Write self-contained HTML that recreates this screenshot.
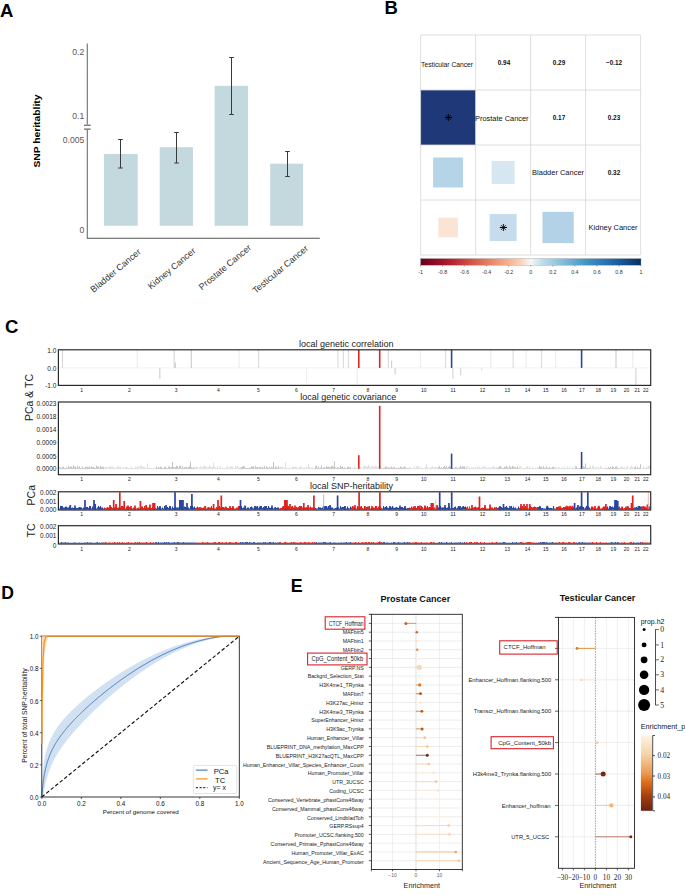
<!DOCTYPE html>
<html><head><meta charset="utf-8"><style>
html,body{margin:0;padding:0;background:#fff;}
svg{display:block;}
</style></head><body>
<svg width="685" height="895" viewBox="0 0 685 895">
<rect x="0" y="0" width="685" height="895" fill="#fff"/>
<text x="0.00" y="16.50" font-size="18.5" text-anchor="start" font-weight="bold" fill="#000" font-family='"Liberation Sans", sans-serif' >A</text>
<text x="384.50" y="13.60" font-size="18.5" text-anchor="start" font-weight="bold" fill="#000" font-family='"Liberation Sans", sans-serif' >B</text>
<text x="5.00" y="332.80" font-size="18.5" text-anchor="start" font-weight="bold" fill="#000" font-family='"Liberation Sans", sans-serif' >C</text>
<text x="1.20" y="599.40" font-size="17.6" text-anchor="start" font-weight="bold" fill="#000" font-family='"Liberation Sans", sans-serif' >D</text>
<text x="290.80" y="591.60" font-size="17.8" text-anchor="start" font-weight="bold" fill="#000" font-family='"Liberation Sans", sans-serif' >E</text>
<line x1="87.30" y1="43.40" x2="87.30" y2="124.50" stroke="#6e6e6e" stroke-width="1.1" />
<line x1="87.30" y1="129.80" x2="87.30" y2="238.20" stroke="#6e6e6e" stroke-width="1.1" />
<line x1="84.00" y1="125.20" x2="90.70" y2="125.20" stroke="#444" stroke-width="1" />
<line x1="84.00" y1="129.10" x2="90.70" y2="129.10" stroke="#444" stroke-width="1" />
<line x1="86.80" y1="238.20" x2="319.80" y2="238.20" stroke="#555" stroke-width="1.1" />
<text x="84.30" y="54.80" font-size="8.6" text-anchor="end" font-weight="normal" fill="#5e554e" font-family='"Liberation Sans", sans-serif' >0.2</text>
<text x="84.30" y="119.20" font-size="8.6" text-anchor="end" font-weight="normal" fill="#5e554e" font-family='"Liberation Sans", sans-serif' >0.1</text>
<text x="84.30" y="143.10" font-size="8.6" text-anchor="end" font-weight="normal" fill="#5e554e" font-family='"Liberation Sans", sans-serif' >0.005</text>
<text x="84.30" y="232.60" font-size="8.6" text-anchor="end" font-weight="normal" fill="#5e554e" font-family='"Liberation Sans", sans-serif' >0</text>
<rect x="103.90" y="154.00" width="33.80" height="71.80" fill="#c4d9de" />
<rect x="159.70" y="147.20" width="33.30" height="78.60" fill="#c4d9de" />
<rect x="214.60" y="85.80" width="33.50" height="140.00" fill="#c4d9de" />
<rect x="270.20" y="163.70" width="32.90" height="62.10" fill="#c4d9de" />
<line x1="120.50" y1="139.50" x2="120.50" y2="168.00" stroke="#3a3a3a" stroke-width="1" />
<line x1="118.20" y1="139.50" x2="122.80" y2="139.50" stroke="#3a3a3a" stroke-width="1" />
<line x1="118.20" y1="168.00" x2="122.80" y2="168.00" stroke="#3a3a3a" stroke-width="1" />
<line x1="176.50" y1="132.50" x2="176.50" y2="163.00" stroke="#3a3a3a" stroke-width="1" />
<line x1="174.20" y1="132.50" x2="178.80" y2="132.50" stroke="#3a3a3a" stroke-width="1" />
<line x1="174.20" y1="163.00" x2="178.80" y2="163.00" stroke="#3a3a3a" stroke-width="1" />
<line x1="231.50" y1="57.50" x2="231.50" y2="114.50" stroke="#3a3a3a" stroke-width="1" />
<line x1="229.20" y1="57.50" x2="233.80" y2="57.50" stroke="#3a3a3a" stroke-width="1" />
<line x1="229.20" y1="114.50" x2="233.80" y2="114.50" stroke="#3a3a3a" stroke-width="1" />
<line x1="287.50" y1="151.50" x2="287.50" y2="176.50" stroke="#3a3a3a" stroke-width="1" />
<line x1="285.20" y1="151.50" x2="289.80" y2="151.50" stroke="#3a3a3a" stroke-width="1" />
<line x1="285.20" y1="176.50" x2="289.80" y2="176.50" stroke="#3a3a3a" stroke-width="1" />
<text x="0" y="0" font-size="9" text-anchor="end" fill="#333" font-family='"Liberation Sans", sans-serif' transform="translate(141.50,252.80) rotate(-40)">Bladder Cancer</text>
<text x="0" y="0" font-size="9" text-anchor="end" fill="#333" font-family='"Liberation Sans", sans-serif' transform="translate(196.20,251.80) rotate(-40)">Kidney Cancer</text>
<text x="0" y="0" font-size="9" text-anchor="end" fill="#333" font-family='"Liberation Sans", sans-serif' transform="translate(251.80,248.60) rotate(-40)">Prostate Cancer</text>
<text x="0" y="0" font-size="9" text-anchor="end" fill="#333" font-family='"Liberation Sans", sans-serif' transform="translate(308.90,249.30) rotate(-40)">Testicular Cancer</text>
<text x="0" y="0" font-size="9.3" font-weight="bold" text-anchor="middle" fill="#000" font-family='"Liberation Sans", sans-serif' textLength="73" lengthAdjust="spacingAndGlyphs" transform="translate(39.7,131.1) rotate(-90)">SNP heritablity</text>
<rect x="420.60" y="90.00" width="55.00" height="55.00" fill="#1f3878" />
<rect x="433.10" y="157.50" width="30.00" height="30.00" fill="#b6d4e7" />
<rect x="491.60" y="161.00" width="23.00" height="23.00" fill="#d7e7f2" />
<rect x="438.35" y="217.75" width="19.50" height="19.50" fill="#fbe4d6" />
<rect x="489.60" y="214.00" width="27.00" height="27.00" fill="#c6dced" />
<rect x="542.45" y="211.85" width="31.30" height="31.30" fill="#b3d2e8" />
<line x1="420.60" y1="35.00" x2="420.60" y2="255.00" stroke="#d6d6d6" stroke-width="0.8" />
<line x1="420.60" y1="35.00" x2="640.60" y2="35.00" stroke="#d6d6d6" stroke-width="0.8" />
<line x1="475.60" y1="35.00" x2="475.60" y2="255.00" stroke="#d6d6d6" stroke-width="0.8" />
<line x1="420.60" y1="90.00" x2="640.60" y2="90.00" stroke="#d6d6d6" stroke-width="0.8" />
<line x1="530.60" y1="35.00" x2="530.60" y2="255.00" stroke="#d6d6d6" stroke-width="0.8" />
<line x1="420.60" y1="145.00" x2="640.60" y2="145.00" stroke="#d6d6d6" stroke-width="0.8" />
<line x1="585.60" y1="35.00" x2="585.60" y2="255.00" stroke="#d6d6d6" stroke-width="0.8" />
<line x1="420.60" y1="200.00" x2="640.60" y2="200.00" stroke="#d6d6d6" stroke-width="0.8" />
<line x1="640.60" y1="35.00" x2="640.60" y2="255.00" stroke="#d6d6d6" stroke-width="0.8" />
<line x1="420.60" y1="255.00" x2="640.60" y2="255.00" stroke="#d6d6d6" stroke-width="0.8" />
<text x="447.10" y="67.00" font-size="7.3" text-anchor="middle" font-weight="normal" fill="#111" font-family='"Liberation Sans", sans-serif' textLength="52" lengthAdjust="spacingAndGlyphs">Testicular Cancer</text>
<text x="501.80" y="121.10" font-size="7.3" text-anchor="middle" font-weight="normal" fill="#111" font-family='"Liberation Sans", sans-serif' textLength="53.6" lengthAdjust="spacingAndGlyphs">Prostate Cancer</text>
<text x="558.10" y="175.10" font-size="7.3" text-anchor="middle" font-weight="normal" fill="#111" font-family='"Liberation Sans", sans-serif' textLength="52" lengthAdjust="spacingAndGlyphs">Bladder Cancer</text>
<text x="613.10" y="230.10" font-size="7.3" text-anchor="middle" font-weight="normal" fill="#111" font-family='"Liberation Sans", sans-serif' textLength="49" lengthAdjust="spacingAndGlyphs">Kidney Cancer</text>
<text x="504.00" y="64.70" font-size="6.4" text-anchor="middle" font-weight="bold" fill="#111" font-family='"Liberation Sans", sans-serif' >0.94</text>
<text x="559.00" y="64.70" font-size="6.4" text-anchor="middle" font-weight="bold" fill="#111" font-family='"Liberation Sans", sans-serif' >0.29</text>
<text x="614.00" y="64.70" font-size="6.4" text-anchor="middle" font-weight="bold" fill="#111" font-family='"Liberation Sans", sans-serif' >−0.12</text>
<text x="559.00" y="119.70" font-size="6.4" text-anchor="middle" font-weight="bold" fill="#111" font-family='"Liberation Sans", sans-serif' >0.17</text>
<text x="614.00" y="119.70" font-size="6.4" text-anchor="middle" font-weight="bold" fill="#111" font-family='"Liberation Sans", sans-serif' >0.23</text>
<text x="614.00" y="174.70" font-size="6.4" text-anchor="middle" font-weight="bold" fill="#111" font-family='"Liberation Sans", sans-serif' >0.32</text>
<line x1="444.80" y1="117.50" x2="452.00" y2="117.50" stroke="#000" stroke-width="1.1" />
<line x1="448.40" y1="114.00" x2="448.40" y2="121.00" stroke="#000" stroke-width="0.9" />
<line x1="445.90" y1="115.00" x2="450.90" y2="120.00" stroke="#000" stroke-width="0.75" />
<line x1="445.90" y1="120.00" x2="450.90" y2="115.00" stroke="#000" stroke-width="0.75" />
<line x1="499.80" y1="227.50" x2="507.00" y2="227.50" stroke="#000" stroke-width="1.1" />
<line x1="503.40" y1="224.00" x2="503.40" y2="231.00" stroke="#000" stroke-width="0.9" />
<line x1="500.90" y1="225.00" x2="505.90" y2="230.00" stroke="#000" stroke-width="0.75" />
<line x1="500.90" y1="230.00" x2="505.90" y2="225.00" stroke="#000" stroke-width="0.75" />
<defs><linearGradient id="rdbu" x1="0" x2="1" y1="0" y2="0">
<stop offset="0.000" stop-color="#67001f"/>
<stop offset="0.050" stop-color="#850a24"/>
<stop offset="0.100" stop-color="#a31329"/>
<stop offset="0.150" stop-color="#b92632"/>
<stop offset="0.200" stop-color="#c8433f"/>
<stop offset="0.250" stop-color="#d6604d"/>
<stop offset="0.300" stop-color="#e27c62"/>
<stop offset="0.350" stop-color="#ee9777"/>
<stop offset="0.400" stop-color="#f6b293"/>
<stop offset="0.450" stop-color="#fbceb6"/>
<stop offset="0.500" stop-color="#f7f7f7"/>
<stop offset="0.550" stop-color="#c1ddec"/>
<stop offset="0.600" stop-color="#a2cde2"/>
<stop offset="0.650" stop-color="#82bbd9"/>
<stop offset="0.700" stop-color="#63a7ce"/>
<stop offset="0.750" stop-color="#4393c3"/>
<stop offset="0.800" stop-color="#3581ba"/>
<stop offset="0.850" stop-color="#286fb1"/>
<stop offset="0.900" stop-color="#1b5b9d"/>
<stop offset="0.950" stop-color="#10467f"/>
<stop offset="1.000" stop-color="#053061"/>
</linearGradient></defs>
<rect x="420.60" y="258.60" width="220.40" height="6.60" fill="url(#rdbu)" stroke="#999" stroke-width="0.4"/>
<line x1="420.60" y1="265.20" x2="420.60" y2="266.60" stroke="#555" stroke-width="0.5" />
<text x="420.60" y="274.00" font-size="5.3" text-anchor="middle" font-weight="normal" fill="#333" font-family='"Liberation Sans", sans-serif' >-1</text>
<line x1="442.64" y1="265.20" x2="442.64" y2="266.60" stroke="#555" stroke-width="0.5" />
<text x="442.64" y="274.00" font-size="5.3" text-anchor="middle" font-weight="normal" fill="#333" font-family='"Liberation Sans", sans-serif' >-0.8</text>
<line x1="464.68" y1="265.20" x2="464.68" y2="266.60" stroke="#555" stroke-width="0.5" />
<text x="464.68" y="274.00" font-size="5.3" text-anchor="middle" font-weight="normal" fill="#333" font-family='"Liberation Sans", sans-serif' >-0.6</text>
<line x1="486.72" y1="265.20" x2="486.72" y2="266.60" stroke="#555" stroke-width="0.5" />
<text x="486.72" y="274.00" font-size="5.3" text-anchor="middle" font-weight="normal" fill="#333" font-family='"Liberation Sans", sans-serif' >-0.4</text>
<line x1="508.76" y1="265.20" x2="508.76" y2="266.60" stroke="#555" stroke-width="0.5" />
<text x="508.76" y="274.00" font-size="5.3" text-anchor="middle" font-weight="normal" fill="#333" font-family='"Liberation Sans", sans-serif' >-0.2</text>
<line x1="530.80" y1="265.20" x2="530.80" y2="266.60" stroke="#555" stroke-width="0.5" />
<text x="530.80" y="274.00" font-size="5.3" text-anchor="middle" font-weight="normal" fill="#333" font-family='"Liberation Sans", sans-serif' >0</text>
<line x1="552.84" y1="265.20" x2="552.84" y2="266.60" stroke="#555" stroke-width="0.5" />
<text x="552.84" y="274.00" font-size="5.3" text-anchor="middle" font-weight="normal" fill="#333" font-family='"Liberation Sans", sans-serif' >0.2</text>
<line x1="574.88" y1="265.20" x2="574.88" y2="266.60" stroke="#555" stroke-width="0.5" />
<text x="574.88" y="274.00" font-size="5.3" text-anchor="middle" font-weight="normal" fill="#333" font-family='"Liberation Sans", sans-serif' >0.4</text>
<line x1="596.92" y1="265.20" x2="596.92" y2="266.60" stroke="#555" stroke-width="0.5" />
<text x="596.92" y="274.00" font-size="5.3" text-anchor="middle" font-weight="normal" fill="#333" font-family='"Liberation Sans", sans-serif' >0.6</text>
<line x1="618.96" y1="265.20" x2="618.96" y2="266.60" stroke="#555" stroke-width="0.5" />
<text x="618.96" y="274.00" font-size="5.3" text-anchor="middle" font-weight="normal" fill="#333" font-family='"Liberation Sans", sans-serif' >0.8</text>
<line x1="641.00" y1="265.20" x2="641.00" y2="266.60" stroke="#555" stroke-width="0.5" />
<text x="641.00" y="274.00" font-size="5.3" text-anchor="middle" font-weight="normal" fill="#333" font-family='"Liberation Sans", sans-serif' >1</text>
<line x1="58.40" y1="367.90" x2="650.70" y2="367.90" stroke="#eeeeee" stroke-width="0.8" />
<line x1="62.50" y1="367.90" x2="62.50" y2="349.80" stroke="#d8d8d8" stroke-width="1.2" />
<line x1="137.30" y1="367.90" x2="137.30" y2="349.80" stroke="#eeeeee" stroke-width="1.2" />
<line x1="159.80" y1="367.90" x2="159.80" y2="378.76" stroke="#d0d0d0" stroke-width="1.2" />
<line x1="174.20" y1="367.90" x2="174.20" y2="349.80" stroke="#d8d8d8" stroke-width="1.2" />
<line x1="175.40" y1="367.90" x2="175.40" y2="362.47" stroke="#d0d0d0" stroke-width="1.2" />
<line x1="191.30" y1="367.90" x2="191.30" y2="349.80" stroke="#d0d0d0" stroke-width="1.2" />
<line x1="239.10" y1="367.90" x2="239.10" y2="349.80" stroke="#eeeeee" stroke-width="1.2" />
<line x1="258.60" y1="367.90" x2="258.60" y2="349.80" stroke="#dddddd" stroke-width="1.2" />
<line x1="306.50" y1="367.90" x2="306.50" y2="382.38" stroke="#eeeeee" stroke-width="1.2" />
<line x1="338.00" y1="367.90" x2="338.00" y2="349.80" stroke="#dddddd" stroke-width="1.2" />
<line x1="343.40" y1="367.90" x2="343.40" y2="349.80" stroke="#dddddd" stroke-width="1.2" />
<line x1="348.50" y1="367.90" x2="348.50" y2="349.80" stroke="#dddddd" stroke-width="1.2" />
<line x1="357.20" y1="367.90" x2="357.20" y2="386.00" stroke="#eeeeee" stroke-width="1.2" />
<line x1="388.40" y1="367.90" x2="388.40" y2="349.80" stroke="#dddddd" stroke-width="1.2" />
<line x1="391.60" y1="367.90" x2="391.60" y2="360.66" stroke="#d0d0d0" stroke-width="1.2" />
<line x1="395.10" y1="367.90" x2="395.10" y2="374.23" stroke="#d0d0d0" stroke-width="1.2" />
<line x1="420.50" y1="367.90" x2="420.50" y2="349.80" stroke="#eeeeee" stroke-width="1.2" />
<line x1="445.50" y1="367.90" x2="445.50" y2="349.80" stroke="#dddddd" stroke-width="1.2" />
<line x1="452.90" y1="367.90" x2="452.90" y2="378.76" stroke="#d8d8d8" stroke-width="1.2" />
<line x1="460.60" y1="367.90" x2="460.60" y2="375.14" stroke="#d8d8d8" stroke-width="1.2" />
<line x1="481.70" y1="367.90" x2="481.70" y2="370.61" stroke="#e0e0e0" stroke-width="1.2" />
<line x1="490.70" y1="367.90" x2="490.70" y2="349.80" stroke="#eeeeee" stroke-width="1.2" />
<line x1="513.20" y1="367.90" x2="513.20" y2="349.80" stroke="#dddddd" stroke-width="1.2" />
<line x1="526.00" y1="367.90" x2="526.00" y2="349.80" stroke="#eeeeee" stroke-width="1.2" />
<line x1="541.50" y1="367.90" x2="541.50" y2="349.80" stroke="#dddddd" stroke-width="1.2" />
<line x1="555.60" y1="367.90" x2="555.60" y2="349.80" stroke="#eeeeee" stroke-width="1.2" />
<line x1="616.00" y1="367.90" x2="616.00" y2="349.80" stroke="#d0d0d0" stroke-width="1.2" />
<line x1="632.70" y1="367.90" x2="632.70" y2="349.80" stroke="#eeeeee" stroke-width="1.2" />
<line x1="635.90" y1="367.90" x2="635.90" y2="386.00" stroke="#d8d8d8" stroke-width="1.2" />
<line x1="358.80" y1="367.90" x2="358.80" y2="349.80" stroke="#e0231f" stroke-width="1.6" />
<line x1="379.70" y1="367.90" x2="379.70" y2="349.80" stroke="#e0231f" stroke-width="1.6" />
<line x1="451.60" y1="367.90" x2="451.60" y2="349.80" stroke="#2a44a0" stroke-width="1.6" />
<line x1="581.60" y1="367.90" x2="581.60" y2="349.80" stroke="#2a44a0" stroke-width="1.6" />
<rect x="58.4" y="349.8" width="592.3000000000001" height="35.599999999999966" fill="none" stroke="#2b2b2b" stroke-width="1.2"/>
<text x="56.40" y="352.70" font-size="6.5" text-anchor="end" font-weight="normal" fill="#222" font-family='"Liberation Sans", sans-serif' >1.0</text>
<text x="56.40" y="370.50" font-size="6.5" text-anchor="end" font-weight="normal" fill="#222" font-family='"Liberation Sans", sans-serif' >0.0</text>
<text x="56.40" y="388.10" font-size="6.5" text-anchor="end" font-weight="normal" fill="#222" font-family='"Liberation Sans", sans-serif' >-1.0</text>
<text x="81.70" y="391.50" font-size="5" text-anchor="middle" font-weight="normal" fill="#222" font-family='"Liberation Sans", sans-serif' >1</text>
<text x="129.40" y="391.50" font-size="5" text-anchor="middle" font-weight="normal" fill="#222" font-family='"Liberation Sans", sans-serif' >2</text>
<text x="176.10" y="391.50" font-size="5" text-anchor="middle" font-weight="normal" fill="#222" font-family='"Liberation Sans", sans-serif' >3</text>
<text x="218.40" y="391.50" font-size="5" text-anchor="middle" font-weight="normal" fill="#222" font-family='"Liberation Sans", sans-serif' >4</text>
<text x="258.50" y="391.50" font-size="5" text-anchor="middle" font-weight="normal" fill="#222" font-family='"Liberation Sans", sans-serif' >5</text>
<text x="296.40" y="391.50" font-size="5" text-anchor="middle" font-weight="normal" fill="#222" font-family='"Liberation Sans", sans-serif' >6</text>
<text x="333.60" y="391.50" font-size="5" text-anchor="middle" font-weight="normal" fill="#222" font-family='"Liberation Sans", sans-serif' >7</text>
<text x="367.80" y="391.50" font-size="5" text-anchor="middle" font-weight="normal" fill="#222" font-family='"Liberation Sans", sans-serif' >8</text>
<text x="396.70" y="391.50" font-size="5" text-anchor="middle" font-weight="normal" fill="#222" font-family='"Liberation Sans", sans-serif' >9</text>
<text x="423.70" y="391.50" font-size="5" text-anchor="middle" font-weight="normal" fill="#222" font-family='"Liberation Sans", sans-serif' >10</text>
<text x="453.20" y="391.50" font-size="5" text-anchor="middle" font-weight="normal" fill="#222" font-family='"Liberation Sans", sans-serif' >11</text>
<text x="482.50" y="391.50" font-size="5" text-anchor="middle" font-weight="normal" fill="#222" font-family='"Liberation Sans", sans-serif' >12</text>
<text x="507.20" y="391.50" font-size="5" text-anchor="middle" font-weight="normal" fill="#222" font-family='"Liberation Sans", sans-serif' >13</text>
<text x="527.60" y="391.50" font-size="5" text-anchor="middle" font-weight="normal" fill="#222" font-family='"Liberation Sans", sans-serif' >14</text>
<text x="545.70" y="391.50" font-size="5" text-anchor="middle" font-weight="normal" fill="#222" font-family='"Liberation Sans", sans-serif' >15</text>
<text x="564.10" y="391.50" font-size="5" text-anchor="middle" font-weight="normal" fill="#222" font-family='"Liberation Sans", sans-serif' >16</text>
<text x="581.90" y="391.50" font-size="5" text-anchor="middle" font-weight="normal" fill="#222" font-family='"Liberation Sans", sans-serif' >17</text>
<text x="598.30" y="391.50" font-size="5" text-anchor="middle" font-weight="normal" fill="#222" font-family='"Liberation Sans", sans-serif' >18</text>
<text x="613.40" y="391.50" font-size="5" text-anchor="middle" font-weight="normal" fill="#222" font-family='"Liberation Sans", sans-serif' >19</text>
<text x="626.50" y="391.50" font-size="5" text-anchor="middle" font-weight="normal" fill="#222" font-family='"Liberation Sans", sans-serif' >20</text>
<text x="637.20" y="391.50" font-size="5" text-anchor="middle" font-weight="normal" fill="#222" font-family='"Liberation Sans", sans-serif' >21</text>
<text x="645.70" y="391.50" font-size="5" text-anchor="middle" font-weight="normal" fill="#222" font-family='"Liberation Sans", sans-serif' >22</text>
<text x="346.30" y="346.60" font-size="9.0" text-anchor="middle" font-weight="normal" fill="#222" font-family='"Liberation Sans", sans-serif' >local genetic correlation</text>
<line x1="58.40" y1="468.80" x2="650.70" y2="468.80" stroke="#e6e6e6" stroke-width="0.6" />
<path d="M59.5 468.8V467.3M60.5 468.8V467.6M61.5 468.8V468.0M62.5 468.8V467.0M63.5 468.8V466.6M64.5 468.8V468.0M65.5 468.8V468.0M66.5 468.8V467.3M67.5 468.8V468.0M68.5 468.8V465.8M69.5 468.8V467.3M70.5 468.8V466.6M71.5 468.8V466.6M72.5 468.8V467.6M73.5 468.8V465.1M74.5 468.8V467.0M75.5 468.8V466.6M76.5 468.8V468.0M77.5 468.8V465.8M78.5 468.8V467.6M79.5 468.8V466.3M80.5 468.8V468.0M81.5 468.8V468.0M82.5 468.8V466.6M83.5 468.8V468.0M84.5 468.8V468.0M85.5 468.8V466.8M86.5 468.8V466.8M87.5 468.8V466.8M88.5 468.8V467.3M89.5 468.8V466.3M90.5 468.8V467.6M91.5 468.8V466.6M92.5 468.8V467.0M93.5 468.8V467.0M94.5 468.8V467.6M95.5 468.8V468.0M96.5 468.8V465.8M97.5 468.8V466.8M98.5 468.8V466.3M99.5 468.8V468.0M100.5 468.8V465.8M101.5 468.8V467.0M102.5 468.8V467.0M103.5 468.8V466.6M156.5 468.8V466.3M157.5 468.8V468.0M158.5 468.8V467.0M159.5 468.8V467.6M160.5 468.8V466.8M161.5 468.8V467.0M162.5 468.8V468.0M163.5 468.8V468.0M164.5 468.8V467.0M165.5 468.8V466.3M166.5 468.8V468.0M167.5 468.8V468.0M168.5 468.8V466.6M169.5 468.8V466.3M170.5 468.8V467.6M171.5 468.8V467.0M172.5 468.8V461.8M173.5 468.8V467.0M174.5 468.8V467.3M175.5 468.8V467.3M176.5 468.8V465.8M177.5 468.8V466.3M178.5 468.8V468.0M179.5 468.8V465.8M180.5 468.8V465.8M181.5 468.8V468.0M182.5 468.8V465.8M183.5 468.8V468.0M184.5 468.8V467.0M185.5 468.8V467.6M186.5 468.8V466.8M187.5 468.8V468.0M188.5 468.8V467.0M189.5 468.8V466.3M190.5 468.8V461.5M191.5 468.8V467.3M192.5 468.8V468.0M193.5 468.8V467.0M194.5 468.8V468.0M239.5 468.8V468.0M240.5 468.8V467.6M241.5 468.8V467.0M242.5 468.8V466.6M243.5 468.8V465.8M244.5 468.8V466.6M245.5 468.8V468.0M246.5 468.8V468.0M247.5 468.8V468.0M248.5 468.8V468.0M249.5 468.8V467.6M250.5 468.8V467.6M251.5 468.8V466.6M252.5 468.8V466.6M253.5 468.8V466.3M254.5 468.8V468.0M255.5 468.8V465.8M256.5 468.8V467.3M257.5 468.8V467.0M258.5 468.8V467.3M259.5 468.8V467.3M260.5 468.8V466.8M261.5 468.8V467.6M262.5 468.8V466.8M263.5 468.8V468.0M264.5 468.8V465.8M265.5 468.8V468.0M266.5 468.8V466.3M267.5 468.8V467.0M268.5 468.8V468.0M269.5 468.8V466.8M270.5 468.8V468.0M271.5 468.8V466.8M272.5 468.8V467.3M273.5 468.8V462.0M274.5 468.8V468.0M275.5 468.8V466.6M276.5 468.8V466.8M277.5 468.8V468.0M278.5 468.8V466.3M315.5 468.8V466.3M316.5 468.8V465.8M317.5 468.8V468.0M318.5 468.8V466.3M319.5 468.8V468.0M320.5 468.8V467.6M321.5 468.8V465.2M322.5 468.8V468.0M323.5 468.8V467.3M324.5 468.8V467.3M325.5 468.8V467.6M326.5 468.8V466.3M327.5 468.8V466.8M328.5 468.8V466.8M329.5 468.8V467.0M330.5 468.8V467.3M331.5 468.8V465.8M332.5 468.8V466.3M333.5 468.8V466.8M334.5 468.8V461.4M335.5 468.8V467.6M336.5 468.8V468.0M337.5 468.8V467.0M338.5 468.8V467.6M339.5 468.8V468.0M340.5 468.8V465.8M341.5 468.8V467.0M342.5 468.8V466.3M343.5 468.8V468.0M344.5 468.8V467.3M345.5 468.8V468.0M346.5 468.8V468.0M347.5 468.8V467.0M348.5 468.8V466.6M349.5 468.8V467.6M350.5 468.8V467.0M382.5 468.8V468.0M383.5 468.8V468.0M384.5 468.8V467.6M385.5 468.8V466.8M386.5 468.8V466.3M387.5 468.8V468.0M388.5 468.8V467.3M389.5 468.8V467.6M390.5 468.8V467.6M391.5 468.8V466.6M392.5 468.8V467.6M393.5 468.8V467.6M394.5 468.8V466.8M395.5 468.8V468.0M396.5 468.8V468.0M397.5 468.8V468.0M398.5 468.8V467.3M399.5 468.8V468.0M400.5 468.8V466.8M401.5 468.8V466.8M402.5 468.8V468.0M403.5 468.8V467.0M404.5 468.8V466.6M405.5 468.8V467.3M406.5 468.8V468.0M407.5 468.8V468.0M408.5 468.8V468.0M438.5 468.8V466.8M439.5 468.8V466.3M440.5 468.8V468.0M441.5 468.8V467.0M442.5 468.8V468.0M443.5 468.8V467.0M444.5 468.8V465.8M445.5 468.8V467.3M446.5 468.8V466.3M447.5 468.8V468.0M448.5 468.8V466.8M449.5 468.8V465.8M450.5 468.8V467.0M451.5 468.8V465.8M452.5 468.8V468.0M453.5 468.8V468.0M454.5 468.8V468.0M455.5 468.8V467.0M456.5 468.8V467.3M457.5 468.8V468.0M458.5 468.8V468.0M459.5 468.8V467.3M460.5 468.8V465.8M461.5 468.8V467.6M462.5 468.8V466.3M463.5 468.8V466.6M464.5 468.8V466.3M465.5 468.8V468.0M497.5 468.8V468.0M498.5 468.8V467.3M499.5 468.8V466.6M500.5 468.8V465.8M501.5 468.8V467.6M502.5 468.8V468.0M503.5 468.8V468.0M504.5 468.8V466.8M505.5 468.8V467.0M506.5 468.8V465.8M507.5 468.8V467.3M508.5 468.8V468.0M509.5 468.8V465.8M510.5 468.8V466.6M511.5 468.8V467.6M512.5 468.8V465.8M513.5 468.8V466.8M514.5 468.8V467.3M515.5 468.8V467.3M516.5 468.8V468.0M517.5 468.8V466.3M518.5 468.8V468.0M538.5 468.8V468.0M539.5 468.8V465.8M540.5 468.8V466.8M541.5 468.8V466.6M542.5 468.8V468.0M543.5 468.8V466.3M544.5 468.8V467.6M545.5 468.8V468.0M546.5 468.8V466.3M547.5 468.8V467.6M548.5 468.8V468.0M549.5 468.8V467.0M550.5 468.8V468.0M551.5 468.8V468.0M552.5 468.8V466.8M553.5 468.8V466.8M554.5 468.8V468.0M575.5 468.8V466.3M576.5 468.8V466.3M577.5 468.8V468.0M578.5 468.8V468.0M579.5 468.8V468.0M580.5 468.8V468.0M581.5 468.8V466.6M582.5 468.8V467.6M583.5 468.8V466.3M584.5 468.8V467.0M585.5 468.8V463.5M586.5 468.8V468.0M587.5 468.8V468.0M588.5 468.8V468.0M589.5 468.8V467.6M607.5 468.8V468.0M608.5 468.8V467.0M609.5 468.8V468.0M610.5 468.8V466.6M611.5 468.8V468.0M612.5 468.8V466.3M613.5 468.8V467.0M614.5 468.8V468.0M615.5 468.8V466.6M616.5 468.8V466.3M617.5 468.8V467.6M618.5 468.8V468.0M634.5 468.8V467.3M635.5 468.8V466.3M636.5 468.8V468.0M637.5 468.8V467.0M638.5 468.8V468.0M639.5 468.8V467.6M640.5 468.8V464.2" stroke="#c4c4c4" stroke-width="1" fill="none"/>
<path d="M104.5 468.8V467.6M105.5 468.8V467.0M106.5 468.8V466.3M107.5 468.8V468.0M108.5 468.8V467.0M109.5 468.8V466.3M110.5 468.8V467.0M111.5 468.8V466.3M112.5 468.8V466.8M113.5 468.8V466.6M114.5 468.8V468.0M115.5 468.8V468.0M116.5 468.8V467.3M117.5 468.8V466.8M118.5 468.8V465.8M119.5 468.8V467.3M120.5 468.8V466.6M121.5 468.8V468.0M122.5 468.8V468.0M123.5 468.8V466.6M124.5 468.8V468.0M125.5 468.8V467.0M126.5 468.8V466.8M127.5 468.8V467.3M128.5 468.8V468.0M129.5 468.8V468.0M130.5 468.8V467.6M131.5 468.8V466.6M132.5 468.8V468.0M133.5 468.8V468.0M134.5 468.8V468.0M135.5 468.8V466.6M136.5 468.8V467.3M137.5 468.8V466.6M138.5 468.8V466.3M139.5 468.8V467.6M140.5 468.8V465.8M141.5 468.8V465.8M142.5 468.8V466.6M143.5 468.8V466.8M144.5 468.8V466.8M145.5 468.8V467.6M146.5 468.8V468.0M147.5 468.8V463.5M148.5 468.8V468.0M149.5 468.8V467.6M150.5 468.8V468.0M151.5 468.8V468.0M152.5 468.8V468.0M153.5 468.8V467.6M154.5 468.8V468.0M155.5 468.8V468.0M195.5 468.8V466.6M196.5 468.8V466.8M197.5 468.8V467.0M198.5 468.8V467.6M199.5 468.8V467.6M200.5 468.8V465.8M201.5 468.8V467.3M202.5 468.8V467.3M203.5 468.8V466.3M204.5 468.8V465.8M205.5 468.8V466.3M206.5 468.8V466.8M207.5 468.8V467.6M208.5 468.8V467.3M209.5 468.8V465.2M210.5 468.8V466.8M211.5 468.8V467.3M212.5 468.8V466.6M213.5 468.8V462.7M214.5 468.8V466.6M215.5 468.8V467.6M216.5 468.8V468.0M217.5 468.8V466.3M218.5 468.8V468.0M219.5 468.8V467.3M220.5 468.8V465.8M221.5 468.8V468.0M222.5 468.8V467.6M223.5 468.8V468.0M224.5 468.8V468.0M225.5 468.8V468.0M226.5 468.8V467.0M227.5 468.8V465.8M228.5 468.8V468.0M229.5 468.8V467.0M230.5 468.8V466.3M231.5 468.8V466.6M232.5 468.8V466.6M233.5 468.8V468.0M234.5 468.8V468.0M235.5 468.8V465.8M236.5 468.8V467.3M237.5 468.8V465.8M238.5 468.8V467.3M279.5 468.8V467.0M280.5 468.8V466.8M281.5 468.8V466.8M282.5 468.8V466.6M283.5 468.8V468.0M284.5 468.8V467.6M285.5 468.8V462.1M286.5 468.8V467.6M287.5 468.8V468.0M288.5 468.8V468.0M289.5 468.8V467.3M290.5 468.8V468.0M291.5 468.8V468.0M292.5 468.8V466.3M293.5 468.8V467.0M294.5 468.8V466.6M295.5 468.8V466.6M296.5 468.8V467.0M297.5 468.8V468.0M298.5 468.8V468.0M299.5 468.8V466.8M300.5 468.8V467.0M301.5 468.8V466.3M302.5 468.8V468.0M303.5 468.8V468.0M304.5 468.8V467.3M305.5 468.8V468.0M306.5 468.8V466.8M307.5 468.8V468.0M308.5 468.8V463.6M309.5 468.8V466.6M310.5 468.8V468.0M311.5 468.8V467.3M312.5 468.8V467.3M313.5 468.8V468.0M314.5 468.8V468.0M351.5 468.8V468.0M352.5 468.8V468.0M353.5 468.8V467.6M354.5 468.8V466.6M355.5 468.8V467.3M356.5 468.8V467.6M357.5 468.8V468.0M358.5 468.8V467.3M359.5 468.8V467.6M360.5 468.8V467.0M361.5 468.8V467.3M362.5 468.8V468.0M363.5 468.8V465.8M364.5 468.8V466.3M365.5 468.8V465.8M366.5 468.8V466.8M367.5 468.8V466.3M368.5 468.8V464.7M369.5 468.8V466.3M370.5 468.8V468.0M371.5 468.8V466.3M372.5 468.8V466.3M373.5 468.8V466.3M374.5 468.8V467.3M375.5 468.8V465.8M376.5 468.8V465.8M377.5 468.8V467.6M378.5 468.8V466.6M379.5 468.8V466.3M380.5 468.8V466.3M381.5 468.8V467.6M409.5 468.8V467.0M410.5 468.8V467.3M411.5 468.8V468.0M412.5 468.8V468.0M413.5 468.8V468.0M414.5 468.8V466.3M415.5 468.8V468.0M416.5 468.8V466.3M417.5 468.8V466.8M418.5 468.8V465.8M419.5 468.8V468.0M420.5 468.8V467.3M421.5 468.8V467.6M422.5 468.8V467.6M423.5 468.8V468.0M424.5 468.8V468.0M425.5 468.8V466.8M426.5 468.8V463.8M427.5 468.8V467.3M428.5 468.8V468.0M429.5 468.8V468.0M430.5 468.8V467.0M431.5 468.8V467.3M432.5 468.8V466.3M433.5 468.8V467.6M434.5 468.8V467.3M435.5 468.8V466.8M436.5 468.8V467.3M437.5 468.8V468.0M466.5 468.8V466.8M467.5 468.8V465.8M468.5 468.8V468.0M469.5 468.8V466.8M470.5 468.8V468.0M471.5 468.8V467.3M472.5 468.8V468.0M473.5 468.8V467.0M474.5 468.8V468.0M475.5 468.8V466.3M476.5 468.8V468.0M477.5 468.8V467.0M478.5 468.8V466.3M479.5 468.8V467.3M480.5 468.8V467.6M481.5 468.8V468.0M482.5 468.8V466.8M483.5 468.8V466.8M484.5 468.8V465.8M485.5 468.8V467.3M486.5 468.8V467.3M487.5 468.8V468.0M488.5 468.8V467.6M489.5 468.8V467.0M490.5 468.8V468.0M491.5 468.8V467.6M492.5 468.8V466.8M493.5 468.8V466.3M494.5 468.8V466.8M495.5 468.8V468.0M496.5 468.8V466.8M519.5 468.8V466.3M520.5 468.8V465.8M521.5 468.8V467.6M522.5 468.8V467.6M523.5 468.8V468.0M524.5 468.8V468.0M525.5 468.8V467.6M526.5 468.8V467.0M527.5 468.8V466.3M528.5 468.8V468.0M529.5 468.8V466.3M530.5 468.8V467.6M531.5 468.8V468.0M532.5 468.8V466.6M533.5 468.8V468.0M534.5 468.8V468.0M535.5 468.8V467.6M536.5 468.8V468.0M537.5 468.8V466.8M555.5 468.8V466.3M556.5 468.8V467.6M557.5 468.8V468.0M558.5 468.8V467.0M559.5 468.8V467.3M560.5 468.8V468.0M561.5 468.8V468.0M562.5 468.8V467.0M563.5 468.8V468.0M564.5 468.8V466.6M565.5 468.8V468.0M566.5 468.8V468.0M567.5 468.8V466.3M568.5 468.8V468.0M569.5 468.8V466.8M570.5 468.8V468.0M571.5 468.8V468.0M572.5 468.8V466.8M573.5 468.8V468.0M574.5 468.8V468.0M590.5 468.8V465.8M591.5 468.8V468.0M592.5 468.8V465.8M593.5 468.8V465.8M594.5 468.8V467.6M595.5 468.8V467.3M596.5 468.8V466.8M597.5 468.8V468.0M598.5 468.8V466.8M599.5 468.8V468.0M600.5 468.8V465.8M601.5 468.8V466.8M602.5 468.8V468.0M603.5 468.8V468.0M604.5 468.8V468.0M605.5 468.8V467.0M606.5 468.8V468.0M619.5 468.8V468.0M620.5 468.8V466.8M621.5 468.8V466.8M622.5 468.8V466.8M623.5 468.8V467.3M624.5 468.8V467.3M625.5 468.8V468.0M626.5 468.8V467.0M627.5 468.8V465.8M628.5 468.8V468.0M629.5 468.8V468.0M630.5 468.8V466.8M631.5 468.8V465.8M632.5 468.8V466.6M633.5 468.8V468.0M641.5 468.8V468.0M642.5 468.8V468.0M643.5 468.8V466.3M644.5 468.8V467.3M645.5 468.8V468.0M646.5 468.8V466.6M647.5 468.8V467.3M648.5 468.8V465.8M649.5 468.8V465.8" stroke="#e0e0e0" stroke-width="1" fill="none"/>
<line x1="358.80" y1="468.80" x2="358.80" y2="455.20" stroke="#e0231f" stroke-width="1.6" />
<line x1="379.70" y1="468.80" x2="379.70" y2="405.80" stroke="#e0231f" stroke-width="1.6" />
<line x1="451.60" y1="468.80" x2="451.60" y2="453.60" stroke="#2a44a0" stroke-width="1.6" />
<line x1="581.60" y1="468.80" x2="581.60" y2="452.00" stroke="#2a44a0" stroke-width="1.6" />
<rect x="58.4" y="402.0" width="592.3000000000001" height="72.69999999999999" fill="none" stroke="#2b2b2b" stroke-width="1.2"/>
<text x="56.40" y="406.30" font-size="6.5" text-anchor="end" font-weight="normal" fill="#222" font-family='"Liberation Sans", sans-serif' >0.0023</text>
<text x="56.40" y="419.20" font-size="6.5" text-anchor="end" font-weight="normal" fill="#222" font-family='"Liberation Sans", sans-serif' >0.0018</text>
<text x="56.40" y="432.40" font-size="6.5" text-anchor="end" font-weight="normal" fill="#222" font-family='"Liberation Sans", sans-serif' >0.0014</text>
<text x="56.40" y="445.30" font-size="6.5" text-anchor="end" font-weight="normal" fill="#222" font-family='"Liberation Sans", sans-serif' >0.0009</text>
<text x="56.40" y="458.60" font-size="6.5" text-anchor="end" font-weight="normal" fill="#222" font-family='"Liberation Sans", sans-serif' >0.0005</text>
<text x="56.40" y="471.30" font-size="6.5" text-anchor="end" font-weight="normal" fill="#222" font-family='"Liberation Sans", sans-serif' >0.0000</text>
<text x="81.70" y="481.20" font-size="5" text-anchor="middle" font-weight="normal" fill="#222" font-family='"Liberation Sans", sans-serif' >1</text>
<text x="129.40" y="481.20" font-size="5" text-anchor="middle" font-weight="normal" fill="#222" font-family='"Liberation Sans", sans-serif' >2</text>
<text x="176.10" y="481.20" font-size="5" text-anchor="middle" font-weight="normal" fill="#222" font-family='"Liberation Sans", sans-serif' >3</text>
<text x="218.40" y="481.20" font-size="5" text-anchor="middle" font-weight="normal" fill="#222" font-family='"Liberation Sans", sans-serif' >4</text>
<text x="258.50" y="481.20" font-size="5" text-anchor="middle" font-weight="normal" fill="#222" font-family='"Liberation Sans", sans-serif' >5</text>
<text x="296.40" y="481.20" font-size="5" text-anchor="middle" font-weight="normal" fill="#222" font-family='"Liberation Sans", sans-serif' >6</text>
<text x="333.60" y="481.20" font-size="5" text-anchor="middle" font-weight="normal" fill="#222" font-family='"Liberation Sans", sans-serif' >7</text>
<text x="367.80" y="481.20" font-size="5" text-anchor="middle" font-weight="normal" fill="#222" font-family='"Liberation Sans", sans-serif' >8</text>
<text x="396.70" y="481.20" font-size="5" text-anchor="middle" font-weight="normal" fill="#222" font-family='"Liberation Sans", sans-serif' >9</text>
<text x="423.70" y="481.20" font-size="5" text-anchor="middle" font-weight="normal" fill="#222" font-family='"Liberation Sans", sans-serif' >10</text>
<text x="453.20" y="481.20" font-size="5" text-anchor="middle" font-weight="normal" fill="#222" font-family='"Liberation Sans", sans-serif' >11</text>
<text x="482.50" y="481.20" font-size="5" text-anchor="middle" font-weight="normal" fill="#222" font-family='"Liberation Sans", sans-serif' >12</text>
<text x="507.20" y="481.20" font-size="5" text-anchor="middle" font-weight="normal" fill="#222" font-family='"Liberation Sans", sans-serif' >13</text>
<text x="527.60" y="481.20" font-size="5" text-anchor="middle" font-weight="normal" fill="#222" font-family='"Liberation Sans", sans-serif' >14</text>
<text x="545.70" y="481.20" font-size="5" text-anchor="middle" font-weight="normal" fill="#222" font-family='"Liberation Sans", sans-serif' >15</text>
<text x="564.10" y="481.20" font-size="5" text-anchor="middle" font-weight="normal" fill="#222" font-family='"Liberation Sans", sans-serif' >16</text>
<text x="581.90" y="481.20" font-size="5" text-anchor="middle" font-weight="normal" fill="#222" font-family='"Liberation Sans", sans-serif' >17</text>
<text x="598.30" y="481.20" font-size="5" text-anchor="middle" font-weight="normal" fill="#222" font-family='"Liberation Sans", sans-serif' >18</text>
<text x="613.40" y="481.20" font-size="5" text-anchor="middle" font-weight="normal" fill="#222" font-family='"Liberation Sans", sans-serif' >19</text>
<text x="626.50" y="481.20" font-size="5" text-anchor="middle" font-weight="normal" fill="#222" font-family='"Liberation Sans", sans-serif' >20</text>
<text x="637.20" y="481.20" font-size="5" text-anchor="middle" font-weight="normal" fill="#222" font-family='"Liberation Sans", sans-serif' >21</text>
<text x="645.70" y="481.20" font-size="5" text-anchor="middle" font-weight="normal" fill="#222" font-family='"Liberation Sans", sans-serif' >22</text>
<text x="348.20" y="399.60" font-size="9.0" text-anchor="middle" font-weight="normal" fill="#222" font-family='"Liberation Sans", sans-serif' >local genetic covariance</text>
<text x="0" y="0" font-size="10.5" text-anchor="middle" fill="#222" font-family='"Liberation Sans", sans-serif' transform="translate(32.9,397.5) rotate(-90)">PCa &amp; TC</text>
<path d="M59.5 509.6V508.6M60.5 509.6V506.1M61.5 509.6V506.1M62.5 509.6V507.6M63.5 509.6V507.6M64.5 509.6V507.6M65.5 509.6V507.1M66.5 509.6V507.6M67.5 509.6V507.6M68.5 509.6V507.6M69.5 509.6V506.6M70.5 509.6V507.6M71.5 509.6V508.1M72.5 509.6V507.6M73.5 509.6V508.1M74.5 509.6V508.1M75.5 509.6V508.1M76.5 509.6V508.1M77.5 509.6V508.1M78.5 509.6V507.6M79.5 509.6V507.1M80.5 509.6V508.1M81.5 509.6V507.6M82.5 509.6V508.6M83.5 509.6V507.6M84.5 509.6V507.6M85.5 509.6V508.1M86.5 509.6V507.1M87.5 509.6V507.1M88.5 509.6V508.1M89.5 509.6V506.6M90.5 509.6V506.1M91.5 509.6V508.6M92.5 509.6V506.6M93.5 509.6V507.6M94.5 509.6V508.6M95.5 509.6V508.6M96.5 509.6V508.6M97.5 509.6V507.6M98.5 509.6V506.1M99.5 509.6V508.1M100.5 509.6V506.1M101.5 509.6V507.6M102.5 509.6V507.6M103.5 509.6V508.6M156.5 509.6V508.6M157.5 509.6V506.1M158.5 509.6V507.6M159.5 509.6V507.1M160.5 509.6V507.6M161.5 509.6V508.6M162.5 509.6V507.6M163.5 509.6V508.6M164.5 509.6V506.1M165.5 509.6V507.6M166.5 509.6V506.6M167.5 509.6V507.1M168.5 509.6V508.1M169.5 509.6V506.6M170.5 509.6V507.1M171.5 509.6V508.6M172.5 509.6V506.6M173.5 509.6V508.1M174.5 509.6V507.6M175.5 509.6V506.6M176.5 509.6V507.6M177.5 509.6V507.6M178.5 509.6V507.6M179.5 509.6V506.6M180.5 509.6V507.6M181.5 509.6V507.6M182.5 509.6V508.6M183.5 509.6V507.6M184.5 509.6V506.6M185.5 509.6V507.1M186.5 509.6V507.6M187.5 509.6V507.6M188.5 509.6V507.6M189.5 509.6V508.6M190.5 509.6V506.1M191.5 509.6V506.1M192.5 509.6V506.1M193.5 509.6V507.6M194.5 509.6V506.6M239.5 509.6V506.1M240.5 509.6V506.1M241.5 509.6V506.1M242.5 509.6V508.1M243.5 509.6V507.6M244.5 509.6V508.1M245.5 509.6V506.1M246.5 509.6V508.6M247.5 509.6V507.6M248.5 509.6V507.6M249.5 509.6V508.6M250.5 509.6V507.1M251.5 509.6V506.6M252.5 509.6V507.6M253.5 509.6V508.6M254.5 509.6V506.6M255.5 509.6V507.1M256.5 509.6V506.6M257.5 509.6V506.1M258.5 509.6V508.1M259.5 509.6V506.6M260.5 509.6V506.1M261.5 509.6V506.1M262.5 509.6V508.1M263.5 509.6V507.1M264.5 509.6V507.6M265.5 509.6V507.1M266.5 509.6V506.1M267.5 509.6V508.1M268.5 509.6V506.1M269.5 509.6V507.6M270.5 509.6V508.1M271.5 509.6V507.1M272.5 509.6V508.1M273.5 509.6V508.6M274.5 509.6V507.6M275.5 509.6V507.1M276.5 509.6V508.1M277.5 509.6V507.6M278.5 509.6V507.6M315.5 509.6V508.1M316.5 509.6V508.6M317.5 509.6V508.6M318.5 509.6V507.1M319.5 509.6V507.6M320.5 509.6V507.6M321.5 509.6V508.1M322.5 509.6V507.6M323.5 509.6V506.1M324.5 509.6V507.1M325.5 509.6V506.1M326.5 509.6V506.1M327.5 509.6V507.6M328.5 509.6V506.1M329.5 509.6V508.1M330.5 509.6V506.1M331.5 509.6V507.6M332.5 509.6V507.6M333.5 509.6V508.6M334.5 509.6V508.6M335.5 509.6V508.1M336.5 509.6V507.6M337.5 509.6V507.6M338.5 509.6V507.6M339.5 509.6V508.6M340.5 509.6V506.1M341.5 509.6V507.6M342.5 509.6V507.1M343.5 509.6V507.1M344.5 509.6V506.6M345.5 509.6V508.6M346.5 509.6V508.6M347.5 509.6V506.6M348.5 509.6V508.1M349.5 509.6V508.6M350.5 509.6V506.6M382.5 509.6V508.6M383.5 509.6V506.1M384.5 509.6V507.6M385.5 509.6V507.1M386.5 509.6V506.1M387.5 509.6V507.6M388.5 509.6V508.1M389.5 509.6V507.6M390.5 509.6V507.1M391.5 509.6V507.6M392.5 509.6V506.1M393.5 509.6V507.6M394.5 509.6V508.1M395.5 509.6V507.6M396.5 509.6V507.1M397.5 509.6V507.6M398.5 509.6V508.1M399.5 509.6V507.1M400.5 509.6V507.6M401.5 509.6V507.1M402.5 509.6V507.1M403.5 509.6V508.1M404.5 509.6V507.6M405.5 509.6V507.6M406.5 509.6V508.6M407.5 509.6V508.1M408.5 509.6V508.1M438.5 509.6V507.6M439.5 509.6V506.6M440.5 509.6V506.1M441.5 509.6V507.6M442.5 509.6V507.6M443.5 509.6V507.6M444.5 509.6V507.6M445.5 509.6V507.1M446.5 509.6V508.1M447.5 509.6V507.6M448.5 509.6V507.6M449.5 509.6V506.1M450.5 509.6V508.6M451.5 509.6V507.6M452.5 509.6V508.1M453.5 509.6V508.1M454.5 509.6V507.1M455.5 509.6V506.6M456.5 509.6V508.6M457.5 509.6V507.6M458.5 509.6V506.1M459.5 509.6V507.1M460.5 509.6V507.6M461.5 509.6V507.6M462.5 509.6V506.6M463.5 509.6V506.1M464.5 509.6V507.1M465.5 509.6V506.6M497.5 509.6V508.1M498.5 509.6V507.6M499.5 509.6V507.1M500.5 509.6V507.6M501.5 509.6V507.1M502.5 509.6V508.1M503.5 509.6V508.1M504.5 509.6V507.6M505.5 509.6V507.1M506.5 509.6V506.1M507.5 509.6V507.6M508.5 509.6V508.1M509.5 509.6V508.1M510.5 509.6V508.6M511.5 509.6V506.1M512.5 509.6V508.1M513.5 509.6V506.6M514.5 509.6V508.1M515.5 509.6V507.6M516.5 509.6V508.6M517.5 509.6V508.6M518.5 509.6V506.6M538.5 509.6V507.1M539.5 509.6V506.6M540.5 509.6V507.6M541.5 509.6V508.1M542.5 509.6V508.1M543.5 509.6V508.6M544.5 509.6V508.6M545.5 509.6V508.6M546.5 509.6V507.1M547.5 509.6V508.6M548.5 509.6V507.6M549.5 509.6V508.1M550.5 509.6V508.1M551.5 509.6V508.1M552.5 509.6V508.6M553.5 509.6V506.1M554.5 509.6V508.6M575.5 509.6V508.6M576.5 509.6V507.6M577.5 509.6V506.6M578.5 509.6V508.6M579.5 509.6V506.6M580.5 509.6V506.1M581.5 509.6V507.6M582.5 509.6V506.6M583.5 509.6V507.1M584.5 509.6V508.6M585.5 509.6V507.6M586.5 509.6V506.1M587.5 509.6V507.6M588.5 509.6V506.6M589.5 509.6V507.6M607.5 509.6V506.6M608.5 509.6V508.6M609.5 509.6V507.6M610.5 509.6V506.6M611.5 509.6V507.1M612.5 509.6V506.6M613.5 509.6V507.6M614.5 509.6V506.6M615.5 509.6V506.1M616.5 509.6V507.1M617.5 509.6V507.6M618.5 509.6V507.6M634.5 509.6V507.6M635.5 509.6V507.6M636.5 509.6V507.1M637.5 509.6V508.1M638.5 509.6V507.6M639.5 509.6V506.1M640.5 509.6V506.6" stroke="#2a44a0" stroke-width="1.1" fill="none"/>
<path d="M104.5 509.6V507.6M105.5 509.6V508.1M106.5 509.6V508.6M107.5 509.6V508.6M108.5 509.6V508.1M109.5 509.6V507.1M110.5 509.6V506.1M111.5 509.6V507.1M112.5 509.6V508.1M113.5 509.6V508.6M114.5 509.6V507.6M115.5 509.6V507.1M116.5 509.6V506.1M117.5 509.6V508.1M118.5 509.6V507.6M119.5 509.6V507.1M120.5 509.6V507.6M121.5 509.6V506.1M122.5 509.6V506.1M123.5 509.6V506.6M124.5 509.6V508.6M125.5 509.6V508.6M126.5 509.6V506.6M127.5 509.6V507.1M128.5 509.6V506.6M129.5 509.6V507.1M130.5 509.6V507.6M131.5 509.6V508.1M132.5 509.6V508.6M133.5 509.6V507.6M134.5 509.6V507.6M135.5 509.6V508.1M136.5 509.6V508.6M137.5 509.6V508.1M138.5 509.6V507.6M139.5 509.6V508.6M140.5 509.6V507.1M141.5 509.6V506.6M142.5 509.6V506.6M143.5 509.6V508.1M144.5 509.6V506.1M145.5 509.6V508.6M146.5 509.6V506.1M147.5 509.6V507.6M148.5 509.6V507.6M149.5 509.6V506.6M150.5 509.6V507.6M151.5 509.6V508.1M152.5 509.6V507.1M153.5 509.6V507.6M154.5 509.6V508.6M155.5 509.6V508.1M195.5 509.6V508.1M196.5 509.6V507.6M197.5 509.6V506.6M198.5 509.6V507.6M199.5 509.6V508.1M200.5 509.6V508.6M201.5 509.6V507.6M202.5 509.6V508.1M203.5 509.6V507.6M204.5 509.6V508.6M205.5 509.6V506.1M206.5 509.6V508.6M207.5 509.6V507.6M208.5 509.6V507.1M209.5 509.6V507.6M210.5 509.6V507.6M211.5 509.6V506.1M212.5 509.6V508.1M213.5 509.6V508.1M214.5 509.6V508.6M215.5 509.6V508.6M216.5 509.6V507.1M217.5 509.6V508.1M218.5 509.6V506.6M219.5 509.6V506.1M220.5 509.6V507.6M221.5 509.6V508.6M222.5 509.6V507.1M223.5 509.6V507.1M224.5 509.6V507.6M225.5 509.6V506.6M226.5 509.6V507.1M227.5 509.6V508.1M228.5 509.6V508.1M229.5 509.6V507.6M230.5 509.6V507.6M231.5 509.6V508.1M232.5 509.6V507.1M233.5 509.6V508.1M234.5 509.6V508.6M235.5 509.6V508.6M236.5 509.6V507.6M237.5 509.6V507.6M238.5 509.6V506.1M279.5 509.6V508.6M280.5 509.6V508.1M281.5 509.6V508.1M282.5 509.6V506.6M283.5 509.6V506.1M284.5 509.6V508.1M285.5 509.6V508.6M286.5 509.6V507.1M287.5 509.6V506.1M288.5 509.6V506.1M289.5 509.6V506.6M290.5 509.6V508.6M291.5 509.6V506.6M292.5 509.6V506.1M293.5 509.6V507.6M294.5 509.6V508.6M295.5 509.6V507.6M296.5 509.6V507.1M297.5 509.6V507.6M298.5 509.6V507.1M299.5 509.6V506.1M300.5 509.6V506.6M301.5 509.6V506.1M302.5 509.6V507.6M303.5 509.6V506.6M304.5 509.6V507.6M305.5 509.6V507.6M306.5 509.6V507.1M307.5 509.6V508.1M308.5 509.6V507.6M309.5 509.6V507.6M310.5 509.6V506.6M311.5 509.6V507.6M312.5 509.6V507.6M313.5 509.6V507.1M314.5 509.6V507.6M351.5 509.6V507.6M352.5 509.6V506.1M353.5 509.6V506.6M354.5 509.6V507.1M355.5 509.6V508.6M356.5 509.6V508.6M357.5 509.6V506.1M358.5 509.6V507.1M359.5 509.6V507.6M360.5 509.6V506.6M361.5 509.6V506.1M362.5 509.6V508.1M363.5 509.6V508.6M364.5 509.6V506.1M365.5 509.6V508.6M366.5 509.6V507.1M367.5 509.6V506.6M368.5 509.6V506.6M369.5 509.6V506.1M370.5 509.6V508.6M371.5 509.6V508.1M372.5 509.6V508.1M373.5 509.6V507.6M374.5 509.6V507.6M375.5 509.6V506.1M376.5 509.6V506.1M377.5 509.6V508.1M378.5 509.6V506.6M379.5 509.6V506.1M380.5 509.6V506.6M381.5 509.6V508.1M409.5 509.6V507.6M410.5 509.6V508.1M411.5 509.6V506.6M412.5 509.6V507.6M413.5 509.6V506.6M414.5 509.6V507.6M415.5 509.6V507.6M416.5 509.6V508.1M417.5 509.6V506.1M418.5 509.6V506.1M419.5 509.6V507.6M420.5 509.6V508.6M421.5 509.6V506.1M422.5 509.6V507.1M423.5 509.6V508.6M424.5 509.6V506.6M425.5 509.6V506.1M426.5 509.6V507.6M427.5 509.6V506.1M428.5 509.6V507.6M429.5 509.6V507.1M430.5 509.6V507.1M431.5 509.6V507.1M432.5 509.6V506.6M433.5 509.6V508.6M434.5 509.6V507.6M435.5 509.6V507.1M436.5 509.6V506.6M437.5 509.6V506.1M466.5 509.6V507.6M467.5 509.6V506.6M468.5 509.6V508.6M469.5 509.6V506.6M470.5 509.6V508.6M471.5 509.6V508.1M472.5 509.6V508.1M473.5 509.6V507.6M474.5 509.6V507.1M475.5 509.6V506.6M476.5 509.6V507.6M477.5 509.6V507.6M478.5 509.6V507.1M479.5 509.6V507.6M480.5 509.6V508.6M481.5 509.6V508.1M482.5 509.6V507.6M483.5 509.6V508.1M484.5 509.6V507.1M485.5 509.6V506.6M486.5 509.6V508.6M487.5 509.6V508.6M488.5 509.6V508.6M489.5 509.6V508.6M490.5 509.6V507.1M491.5 509.6V507.6M492.5 509.6V507.6M493.5 509.6V508.6M494.5 509.6V507.1M495.5 509.6V507.6M496.5 509.6V507.1M519.5 509.6V508.1M520.5 509.6V506.1M521.5 509.6V506.6M522.5 509.6V506.1M523.5 509.6V507.6M524.5 509.6V507.6M525.5 509.6V506.1M526.5 509.6V507.6M527.5 509.6V508.6M528.5 509.6V508.6M529.5 509.6V506.6M530.5 509.6V506.1M531.5 509.6V507.1M532.5 509.6V507.6M533.5 509.6V507.1M534.5 509.6V506.6M535.5 509.6V507.1M536.5 509.6V507.6M537.5 509.6V507.1M555.5 509.6V508.6M556.5 509.6V507.1M557.5 509.6V507.1M558.5 509.6V506.6M559.5 509.6V508.1M560.5 509.6V508.1M561.5 509.6V507.6M562.5 509.6V508.1M563.5 509.6V507.1M564.5 509.6V507.1M565.5 509.6V506.6M566.5 509.6V507.1M567.5 509.6V506.6M568.5 509.6V506.6M569.5 509.6V507.6M570.5 509.6V506.1M571.5 509.6V507.1M572.5 509.6V508.1M573.5 509.6V507.1M574.5 509.6V507.6M590.5 509.6V508.6M591.5 509.6V506.6M592.5 509.6V506.6M593.5 509.6V507.6M594.5 509.6V508.1M595.5 509.6V508.1M596.5 509.6V508.6M597.5 509.6V507.6M598.5 509.6V508.1M599.5 509.6V506.6M600.5 509.6V508.6M601.5 509.6V508.6M602.5 509.6V507.6M603.5 509.6V506.6M604.5 509.6V506.6M605.5 509.6V506.1M606.5 509.6V507.6M619.5 509.6V506.6M620.5 509.6V508.1M621.5 509.6V508.6M622.5 509.6V507.1M623.5 509.6V508.6M624.5 509.6V508.1M625.5 509.6V507.6M626.5 509.6V508.1M627.5 509.6V506.1M628.5 509.6V506.6M629.5 509.6V508.1M630.5 509.6V508.1M631.5 509.6V506.6M632.5 509.6V507.6M633.5 509.6V508.1M641.5 509.6V506.6M642.5 509.6V506.6M643.5 509.6V506.1M644.5 509.6V507.1M645.5 509.6V507.6M646.5 509.6V507.6M647.5 509.6V506.1M648.5 509.6V507.1M649.5 509.6V506.6" stroke="#e0231f" stroke-width="1.1" fill="none"/>
<path d="M85.0 509.6V500M94.0 509.6V500M95.2 509.6V504M70.3 509.6V505M62.0 509.6V506M66.0 509.6V506.5M75.0 509.6V505.5M80.0 509.6V507M90.0 509.6V506M100.0 509.6V507M175.0 509.6V492.2M179.8 509.6V500M181.4 509.6V500M183.0 509.6V500M187.0 509.6V503M191.9 509.6V494M160.0 509.6V506M166.0 509.6V505M170.0 509.6V506M240.5 509.6V500M245.0 509.6V505.5M255.0 509.6V506M265.0 509.6V506M272.0 509.6V505.5M337.6 509.6V495.5M330.0 509.6V505M345.0 509.6V506M325.0 509.6V506M390.0 509.6V506M400.0 509.6V505.5M405.0 509.6V506M439.7 509.6V492.2M448.9 509.6V503M451.7 509.6V492.2M445.0 509.6V505M460.0 509.6V506M503.5 509.6V504M500.0 509.6V506M510.0 509.6V506M540.0 509.6V506M547.3 509.6V505.8M574.6 509.6V503M581.6 509.6V492.2M587.8 509.6V492.2M578.0 509.6V505M615.0 509.6V500M616.4 509.6V500M617.8 509.6V501M610.0 509.6V506M638.4 509.6V506" stroke="#2a44a0" stroke-width="1.7" fill="none"/>
<path d="M107.5 509.6V507M113.7 509.6V500M119.8 509.6V492.2M124.2 509.6V501M140.4 509.6V501M153.0 509.6V503M154.6 509.6V503M110.0 509.6V505M116.0 509.6V504M128.0 509.6V505.5M131.0 509.6V506M135.0 509.6V505.5M146.0 509.6V505M150.0 509.6V504.5M213.6 509.6V504M218.0 509.6V500M221.3 509.6V495.5M200.0 509.6V507M205.0 509.6V506M230.0 509.6V506M233.0 509.6V506M284.8 509.6V500M286.0 509.6V500M287.0 509.6V500M290.0 509.6V504M303.8 509.6V503M313.9 509.6V495.5M295.0 509.6V505.5M300.0 509.6V506M308.0 509.6V505M359.1 509.6V492.2M379.9 509.6V492.2M355.0 509.6V505M365.0 509.6V506M372.0 509.6V506M431.3 509.6V503M433.0 509.6V503M437.0 509.6V505M415.0 509.6V506M420.0 509.6V505.5M425.0 509.6V505.5M479.5 509.6V496.6M472.0 509.6V505M485.0 509.6V505M490.0 509.6V504.5M521.0 509.6V504M524.0 509.6V504M527.0 509.6V504M529.7 509.6V504M560.0 509.6V506M567.0 509.6V505.8M570.0 509.6V505.8M572.4 509.6V505.8M598.7 509.6V505.8M605.9 509.6V504M595.0 509.6V506M622.0 509.6V506.5M626.0 509.6V506.5M631.5 509.6V503M632.7 509.6V495.4M643.0 509.6V506.5M645.0 509.6V506.5M647.4 509.6V504.4" stroke="#e0231f" stroke-width="1.7" fill="none"/>
<line x1="323.70" y1="509.60" x2="323.70" y2="494.40" stroke="#9aa6d8" stroke-width="0.8" />
<line x1="435.70" y1="509.60" x2="435.70" y2="500.00" stroke="#f4b0b0" stroke-width="0.8" />
<line x1="648.30" y1="509.60" x2="648.30" y2="492.50" stroke="#f0a0a0" stroke-width="0.8" />
<rect x="58.4" y="491.8" width="592.3000000000001" height="18.19999999999999" fill="none" stroke="#2b2b2b" stroke-width="1.2"/>
<text x="56.40" y="495.10" font-size="6.5" text-anchor="end" font-weight="normal" fill="#222" font-family='"Liberation Sans", sans-serif' >0.002</text>
<text x="56.40" y="503.50" font-size="6.5" text-anchor="end" font-weight="normal" fill="#222" font-family='"Liberation Sans", sans-serif' >0.001</text>
<text x="56.40" y="511.90" font-size="6.5" text-anchor="end" font-weight="normal" fill="#222" font-family='"Liberation Sans", sans-serif' >0.000</text>
<text x="81.70" y="515.80" font-size="5" text-anchor="middle" font-weight="normal" fill="#222" font-family='"Liberation Sans", sans-serif' >1</text>
<text x="129.40" y="515.80" font-size="5" text-anchor="middle" font-weight="normal" fill="#222" font-family='"Liberation Sans", sans-serif' >2</text>
<text x="176.10" y="515.80" font-size="5" text-anchor="middle" font-weight="normal" fill="#222" font-family='"Liberation Sans", sans-serif' >3</text>
<text x="218.40" y="515.80" font-size="5" text-anchor="middle" font-weight="normal" fill="#222" font-family='"Liberation Sans", sans-serif' >4</text>
<text x="258.50" y="515.80" font-size="5" text-anchor="middle" font-weight="normal" fill="#222" font-family='"Liberation Sans", sans-serif' >5</text>
<text x="296.40" y="515.80" font-size="5" text-anchor="middle" font-weight="normal" fill="#222" font-family='"Liberation Sans", sans-serif' >6</text>
<text x="333.60" y="515.80" font-size="5" text-anchor="middle" font-weight="normal" fill="#222" font-family='"Liberation Sans", sans-serif' >7</text>
<text x="367.80" y="515.80" font-size="5" text-anchor="middle" font-weight="normal" fill="#222" font-family='"Liberation Sans", sans-serif' >8</text>
<text x="396.70" y="515.80" font-size="5" text-anchor="middle" font-weight="normal" fill="#222" font-family='"Liberation Sans", sans-serif' >9</text>
<text x="423.70" y="515.80" font-size="5" text-anchor="middle" font-weight="normal" fill="#222" font-family='"Liberation Sans", sans-serif' >10</text>
<text x="453.20" y="515.80" font-size="5" text-anchor="middle" font-weight="normal" fill="#222" font-family='"Liberation Sans", sans-serif' >11</text>
<text x="482.50" y="515.80" font-size="5" text-anchor="middle" font-weight="normal" fill="#222" font-family='"Liberation Sans", sans-serif' >12</text>
<text x="507.20" y="515.80" font-size="5" text-anchor="middle" font-weight="normal" fill="#222" font-family='"Liberation Sans", sans-serif' >13</text>
<text x="527.60" y="515.80" font-size="5" text-anchor="middle" font-weight="normal" fill="#222" font-family='"Liberation Sans", sans-serif' >14</text>
<text x="545.70" y="515.80" font-size="5" text-anchor="middle" font-weight="normal" fill="#222" font-family='"Liberation Sans", sans-serif' >15</text>
<text x="564.10" y="515.80" font-size="5" text-anchor="middle" font-weight="normal" fill="#222" font-family='"Liberation Sans", sans-serif' >16</text>
<text x="581.90" y="515.80" font-size="5" text-anchor="middle" font-weight="normal" fill="#222" font-family='"Liberation Sans", sans-serif' >17</text>
<text x="598.30" y="515.80" font-size="5" text-anchor="middle" font-weight="normal" fill="#222" font-family='"Liberation Sans", sans-serif' >18</text>
<text x="613.40" y="515.80" font-size="5" text-anchor="middle" font-weight="normal" fill="#222" font-family='"Liberation Sans", sans-serif' >19</text>
<text x="626.50" y="515.80" font-size="5" text-anchor="middle" font-weight="normal" fill="#222" font-family='"Liberation Sans", sans-serif' >20</text>
<text x="637.20" y="515.80" font-size="5" text-anchor="middle" font-weight="normal" fill="#222" font-family='"Liberation Sans", sans-serif' >21</text>
<text x="645.70" y="515.80" font-size="5" text-anchor="middle" font-weight="normal" fill="#222" font-family='"Liberation Sans", sans-serif' >22</text>
<text x="351.60" y="488.60" font-size="9.0" text-anchor="middle" font-weight="normal" fill="#222" font-family='"Liberation Sans", sans-serif' >local SNP-heritability</text>
<text x="0" y="0" font-size="10.5" text-anchor="middle" fill="#222" font-family='"Liberation Sans", sans-serif' transform="translate(34.7,495.2) rotate(-90)">PCa</text>
<path d="M59.5 543.6V542.8M60.5 543.6V542.8M61.5 543.6V542.1M62.5 543.6V542.6M63.5 543.6V542.4M64.5 543.6V542.6M65.5 543.6V542.1M66.5 543.6V542.8M67.5 543.6V542.6M68.5 543.6V542.6M69.5 543.6V542.8M70.5 543.6V542.8M71.5 543.6V542.8M72.5 543.6V542.8M73.5 543.6V542.6M74.5 543.6V542.4M75.5 543.6V542.6M76.5 543.6V542.8M77.5 543.6V542.8M78.5 543.6V542.8M79.5 543.6V542.6M80.5 543.6V542.8M81.5 543.6V542.8M82.5 543.6V542.8M83.5 543.6V542.8M84.5 543.6V542.4M85.5 543.6V542.6M86.5 543.6V542.8M87.5 543.6V542.1M88.5 543.6V542.8M89.5 543.6V542.6M90.5 543.6V542.6M91.5 543.6V542.6M92.5 543.6V542.8M93.5 543.6V542.8M94.5 543.6V542.8M95.5 543.6V542.8M96.5 543.6V542.4M97.5 543.6V542.1M98.5 543.6V542.8M99.5 543.6V542.6M100.5 543.6V542.8M101.5 543.6V542.6M102.5 543.6V542.4M103.5 543.6V542.4M156.5 543.6V542.1M157.5 543.6V542.8M158.5 543.6V542.1M159.5 543.6V542.8M160.5 543.6V542.4M161.5 543.6V542.6M162.5 543.6V542.4M163.5 543.6V542.4M164.5 543.6V542.1M165.5 543.6V542.6M166.5 543.6V542.1M167.5 543.6V542.6M168.5 543.6V542.1M169.5 543.6V542.6M170.5 543.6V542.8M171.5 543.6V542.4M172.5 543.6V542.4M173.5 543.6V542.6M174.5 543.6V542.1M175.5 543.6V542.4M176.5 543.6V542.6M177.5 543.6V542.1M178.5 543.6V542.1M179.5 543.6V542.4M180.5 543.6V542.6M181.5 543.6V542.6M182.5 543.6V542.4M183.5 543.6V542.1M184.5 543.6V542.6M185.5 543.6V542.6M186.5 543.6V542.4M187.5 543.6V542.4M188.5 543.6V542.6M189.5 543.6V542.6M190.5 543.6V542.6M191.5 543.6V542.4M192.5 543.6V542.4M193.5 543.6V542.6M194.5 543.6V542.6M239.5 543.6V542.8M240.5 543.6V542.1M241.5 543.6V542.6M242.5 543.6V542.1M243.5 543.6V542.6M244.5 543.6V542.4M245.5 543.6V542.1M246.5 543.6V542.1M247.5 543.6V542.1M248.5 543.6V542.8M249.5 543.6V542.1M250.5 543.6V542.6M251.5 543.6V542.4M252.5 543.6V542.8M253.5 543.6V542.1M254.5 543.6V542.1M255.5 543.6V542.8M256.5 543.6V542.8M257.5 543.6V542.4M258.5 543.6V542.6M259.5 543.6V542.6M260.5 543.6V542.6M261.5 543.6V542.4M262.5 543.6V542.8M263.5 543.6V542.1M264.5 543.6V542.6M265.5 543.6V542.1M266.5 543.6V542.8M267.5 543.6V542.4M268.5 543.6V542.4M269.5 543.6V542.1M270.5 543.6V542.1M271.5 543.6V542.6M272.5 543.6V542.6M273.5 543.6V542.1M274.5 543.6V542.8M275.5 543.6V542.4M276.5 543.6V542.8M277.5 543.6V542.4M278.5 543.6V542.4M315.5 543.6V542.6M316.5 543.6V542.1M317.5 543.6V542.8M318.5 543.6V542.4M319.5 543.6V542.4M320.5 543.6V542.6M321.5 543.6V542.4M322.5 543.6V542.4M323.5 543.6V542.1M324.5 543.6V542.1M325.5 543.6V542.1M326.5 543.6V542.8M327.5 543.6V542.4M328.5 543.6V542.6M329.5 543.6V542.4M330.5 543.6V542.1M331.5 543.6V542.8M332.5 543.6V542.8M333.5 543.6V542.4M334.5 543.6V542.6M335.5 543.6V542.4M336.5 543.6V542.8M337.5 543.6V542.8M338.5 543.6V542.6M339.5 543.6V542.8M340.5 543.6V542.4M341.5 543.6V542.4M342.5 543.6V542.8M343.5 543.6V542.6M344.5 543.6V542.6M345.5 543.6V542.6M346.5 543.6V542.1M347.5 543.6V542.4M348.5 543.6V542.6M349.5 543.6V542.6M350.5 543.6V542.1M382.5 543.6V542.4M383.5 543.6V542.1M384.5 543.6V542.1M385.5 543.6V542.8M386.5 543.6V542.6M387.5 543.6V542.4M388.5 543.6V542.8M389.5 543.6V542.8M390.5 543.6V542.8M391.5 543.6V542.4M392.5 543.6V542.8M393.5 543.6V542.1M394.5 543.6V542.1M395.5 543.6V542.6M396.5 543.6V542.8M397.5 543.6V542.6M398.5 543.6V542.1M399.5 543.6V542.6M400.5 543.6V542.4M401.5 543.6V542.8M402.5 543.6V542.4M403.5 543.6V542.4M404.5 543.6V542.1M405.5 543.6V542.6M406.5 543.6V542.4M407.5 543.6V542.1M408.5 543.6V542.4M438.5 543.6V542.6M439.5 543.6V542.1M440.5 543.6V542.8M441.5 543.6V542.1M442.5 543.6V542.6M443.5 543.6V542.8M444.5 543.6V542.6M445.5 543.6V542.8M446.5 543.6V542.1M447.5 543.6V542.6M448.5 543.6V542.8M449.5 543.6V542.6M450.5 543.6V542.8M451.5 543.6V542.1M452.5 543.6V542.8M453.5 543.6V542.8M454.5 543.6V542.4M455.5 543.6V542.6M456.5 543.6V542.4M457.5 543.6V542.4M458.5 543.6V542.4M459.5 543.6V542.6M460.5 543.6V542.1M461.5 543.6V542.8M462.5 543.6V542.4M463.5 543.6V542.8M464.5 543.6V542.1M465.5 543.6V542.8M497.5 543.6V542.6M498.5 543.6V542.8M499.5 543.6V542.4M500.5 543.6V542.6M501.5 543.6V542.8M502.5 543.6V542.4M503.5 543.6V542.1M504.5 543.6V542.1M505.5 543.6V542.4M506.5 543.6V542.8M507.5 543.6V542.8M508.5 543.6V542.8M509.5 543.6V542.8M510.5 543.6V542.8M511.5 543.6V542.8M512.5 543.6V542.1M513.5 543.6V542.4M514.5 543.6V542.4M515.5 543.6V542.6M516.5 543.6V542.1M517.5 543.6V542.8M518.5 543.6V542.4M538.5 543.6V542.6M539.5 543.6V542.4M540.5 543.6V542.1M541.5 543.6V542.6M542.5 543.6V542.1M543.5 543.6V542.1M544.5 543.6V542.1M545.5 543.6V542.6M546.5 543.6V542.1M547.5 543.6V542.4M548.5 543.6V542.8M549.5 543.6V542.4M550.5 543.6V542.4M551.5 543.6V542.4M552.5 543.6V542.1M553.5 543.6V542.6M554.5 543.6V542.8M575.5 543.6V542.8M576.5 543.6V542.4M577.5 543.6V542.8M578.5 543.6V542.6M579.5 543.6V542.1M580.5 543.6V542.4M581.5 543.6V542.4M582.5 543.6V542.1M583.5 543.6V542.6M584.5 543.6V542.6M585.5 543.6V542.6M586.5 543.6V542.6M587.5 543.6V542.8M588.5 543.6V542.6M589.5 543.6V542.4M607.5 543.6V542.8M608.5 543.6V542.8M609.5 543.6V542.8M610.5 543.6V542.6M611.5 543.6V542.1M612.5 543.6V542.6M613.5 543.6V542.4M614.5 543.6V542.4M615.5 543.6V542.1M616.5 543.6V542.8M617.5 543.6V542.1M618.5 543.6V542.6M634.5 543.6V542.8M635.5 543.6V542.8M636.5 543.6V542.4M637.5 543.6V542.4M638.5 543.6V542.6M639.5 543.6V542.8M640.5 543.6V542.1" stroke="#2a44a0" stroke-width="1.1" fill="none" stroke-opacity="0.9"/>
<path d="M104.5 543.6V542.4M105.5 543.6V542.1M106.5 543.6V542.4M107.5 543.6V542.8M108.5 543.6V542.4M109.5 543.6V542.4M110.5 543.6V542.4M111.5 543.6V542.8M112.5 543.6V542.4M113.5 543.6V542.4M114.5 543.6V542.1M115.5 543.6V542.4M116.5 543.6V542.8M117.5 543.6V542.1M118.5 543.6V542.8M119.5 543.6V542.1M120.5 543.6V542.8M121.5 543.6V542.4M122.5 543.6V542.1M123.5 543.6V542.8M124.5 543.6V542.6M125.5 543.6V542.8M126.5 543.6V542.4M127.5 543.6V542.6M128.5 543.6V542.1M129.5 543.6V542.8M130.5 543.6V542.6M131.5 543.6V542.4M132.5 543.6V542.8M133.5 543.6V542.8M134.5 543.6V542.4M135.5 543.6V542.1M136.5 543.6V542.8M137.5 543.6V542.1M138.5 543.6V542.6M139.5 543.6V542.1M140.5 543.6V542.4M141.5 543.6V542.4M142.5 543.6V542.6M143.5 543.6V542.4M144.5 543.6V542.6M145.5 543.6V542.6M146.5 543.6V542.1M147.5 543.6V542.6M148.5 543.6V542.8M149.5 543.6V542.8M150.5 543.6V542.1M151.5 543.6V542.8M152.5 543.6V542.4M153.5 543.6V542.4M154.5 543.6V542.8M155.5 543.6V542.1M195.5 543.6V542.4M196.5 543.6V542.6M197.5 543.6V542.4M198.5 543.6V542.8M199.5 543.6V542.6M200.5 543.6V542.8M201.5 543.6V542.6M202.5 543.6V542.1M203.5 543.6V542.6M204.5 543.6V542.6M205.5 543.6V542.4M206.5 543.6V542.4M207.5 543.6V542.1M208.5 543.6V542.4M209.5 543.6V542.6M210.5 543.6V542.8M211.5 543.6V542.8M212.5 543.6V542.4M213.5 543.6V542.6M214.5 543.6V542.1M215.5 543.6V542.1M216.5 543.6V542.8M217.5 543.6V542.8M218.5 543.6V542.1M219.5 543.6V542.1M220.5 543.6V542.6M221.5 543.6V542.4M222.5 543.6V542.1M223.5 543.6V542.8M224.5 543.6V542.6M225.5 543.6V542.4M226.5 543.6V542.1M227.5 543.6V542.8M228.5 543.6V542.6M229.5 543.6V542.1M230.5 543.6V542.1M231.5 543.6V542.6M232.5 543.6V542.6M233.5 543.6V542.6M234.5 543.6V542.8M235.5 543.6V542.1M236.5 543.6V542.1M237.5 543.6V542.4M238.5 543.6V542.4M279.5 543.6V542.1M280.5 543.6V542.1M281.5 543.6V542.8M282.5 543.6V542.8M283.5 543.6V542.8M284.5 543.6V542.1M285.5 543.6V542.1M286.5 543.6V542.4M287.5 543.6V542.4M288.5 543.6V542.8M289.5 543.6V542.6M290.5 543.6V542.4M291.5 543.6V542.1M292.5 543.6V542.6M293.5 543.6V542.1M294.5 543.6V542.1M295.5 543.6V542.6M296.5 543.6V542.6M297.5 543.6V542.6M298.5 543.6V542.8M299.5 543.6V542.6M300.5 543.6V542.1M301.5 543.6V542.6M302.5 543.6V542.6M303.5 543.6V542.4M304.5 543.6V542.1M305.5 543.6V542.1M306.5 543.6V542.4M307.5 543.6V542.6M308.5 543.6V542.1M309.5 543.6V542.4M310.5 543.6V542.6M311.5 543.6V542.4M312.5 543.6V542.1M313.5 543.6V542.4M314.5 543.6V542.1M351.5 543.6V542.6M352.5 543.6V542.8M353.5 543.6V542.4M354.5 543.6V542.6M355.5 543.6V542.1M356.5 543.6V542.6M357.5 543.6V542.8M358.5 543.6V542.1M359.5 543.6V542.8M360.5 543.6V542.8M361.5 543.6V542.4M362.5 543.6V542.1M363.5 543.6V542.6M364.5 543.6V542.6M365.5 543.6V542.1M366.5 543.6V542.1M367.5 543.6V542.8M368.5 543.6V542.1M369.5 543.6V542.1M370.5 543.6V542.6M371.5 543.6V542.1M372.5 543.6V542.6M373.5 543.6V542.1M374.5 543.6V542.6M375.5 543.6V542.8M376.5 543.6V542.6M377.5 543.6V542.4M378.5 543.6V542.1M379.5 543.6V542.1M380.5 543.6V542.4M381.5 543.6V542.1M409.5 543.6V542.1M410.5 543.6V542.4M411.5 543.6V542.8M412.5 543.6V542.4M413.5 543.6V542.4M414.5 543.6V542.4M415.5 543.6V542.1M416.5 543.6V542.1M417.5 543.6V542.4M418.5 543.6V542.4M419.5 543.6V542.4M420.5 543.6V542.6M421.5 543.6V542.1M422.5 543.6V542.8M423.5 543.6V542.4M424.5 543.6V542.6M425.5 543.6V542.4M426.5 543.6V542.4M427.5 543.6V542.6M428.5 543.6V542.8M429.5 543.6V542.8M430.5 543.6V542.1M431.5 543.6V542.1M432.5 543.6V542.8M433.5 543.6V542.1M434.5 543.6V542.4M435.5 543.6V542.8M436.5 543.6V542.8M437.5 543.6V542.8M466.5 543.6V542.1M467.5 543.6V542.8M468.5 543.6V542.8M469.5 543.6V542.1M470.5 543.6V542.1M471.5 543.6V542.1M472.5 543.6V542.8M473.5 543.6V542.8M474.5 543.6V542.1M475.5 543.6V542.6M476.5 543.6V542.1M477.5 543.6V542.1M478.5 543.6V542.8M479.5 543.6V542.8M480.5 543.6V542.1M481.5 543.6V542.6M482.5 543.6V542.6M483.5 543.6V542.8M484.5 543.6V542.1M485.5 543.6V542.8M486.5 543.6V542.8M487.5 543.6V542.8M488.5 543.6V542.8M489.5 543.6V542.6M490.5 543.6V542.8M491.5 543.6V542.6M492.5 543.6V542.1M493.5 543.6V542.8M494.5 543.6V542.4M495.5 543.6V542.6M496.5 543.6V542.1M519.5 543.6V542.4M520.5 543.6V542.1M521.5 543.6V542.1M522.5 543.6V542.6M523.5 543.6V542.6M524.5 543.6V542.8M525.5 543.6V542.4M526.5 543.6V542.6M527.5 543.6V542.1M528.5 543.6V542.1M529.5 543.6V542.1M530.5 543.6V542.1M531.5 543.6V542.4M532.5 543.6V542.4M533.5 543.6V542.4M534.5 543.6V542.4M535.5 543.6V542.8M536.5 543.6V542.4M537.5 543.6V542.8M555.5 543.6V542.4M556.5 543.6V542.6M557.5 543.6V542.6M558.5 543.6V542.4M559.5 543.6V542.1M560.5 543.6V542.4M561.5 543.6V542.8M562.5 543.6V542.1M563.5 543.6V542.1M564.5 543.6V542.6M565.5 543.6V542.6M566.5 543.6V542.4M567.5 543.6V542.8M568.5 543.6V542.1M569.5 543.6V542.1M570.5 543.6V542.6M571.5 543.6V542.4M572.5 543.6V542.8M573.5 543.6V542.1M574.5 543.6V542.1M590.5 543.6V542.4M591.5 543.6V542.4M592.5 543.6V542.1M593.5 543.6V542.6M594.5 543.6V542.6M595.5 543.6V542.8M596.5 543.6V542.1M597.5 543.6V542.4M598.5 543.6V542.8M599.5 543.6V542.4M600.5 543.6V542.1M601.5 543.6V542.8M602.5 543.6V542.6M603.5 543.6V542.4M604.5 543.6V542.8M605.5 543.6V542.4M606.5 543.6V542.4M619.5 543.6V542.4M620.5 543.6V542.8M621.5 543.6V542.4M622.5 543.6V542.6M623.5 543.6V542.6M624.5 543.6V542.1M625.5 543.6V542.8M626.5 543.6V542.8M627.5 543.6V542.8M628.5 543.6V542.8M629.5 543.6V542.4M630.5 543.6V542.1M631.5 543.6V542.1M632.5 543.6V542.8M633.5 543.6V542.1M641.5 543.6V542.6M642.5 543.6V542.1M643.5 543.6V542.6M644.5 543.6V542.4M645.5 543.6V542.6M646.5 543.6V542.6M647.5 543.6V542.6M648.5 543.6V542.8M649.5 543.6V542.4" stroke="#e0231f" stroke-width="1.1" fill="none" stroke-opacity="0.9"/>
<line x1="379.80" y1="543.60" x2="379.80" y2="541.20" stroke="#e0231f" stroke-width="1.2" />
<rect x="58.4" y="525.7" width="592.3000000000001" height="18.299999999999955" fill="none" stroke="#2b2b2b" stroke-width="1.2"/>
<text x="56.40" y="529.30" font-size="6.5" text-anchor="end" font-weight="normal" fill="#222" font-family='"Liberation Sans", sans-serif' >0.002</text>
<text x="56.40" y="538.10" font-size="6.5" text-anchor="end" font-weight="normal" fill="#222" font-family='"Liberation Sans", sans-serif' >0.001</text>
<text x="56.40" y="547.50" font-size="6.5" text-anchor="end" font-weight="normal" fill="#222" font-family='"Liberation Sans", sans-serif' >0</text>
<text x="81.70" y="550.70" font-size="5" text-anchor="middle" font-weight="normal" fill="#222" font-family='"Liberation Sans", sans-serif' >1</text>
<text x="129.40" y="550.70" font-size="5" text-anchor="middle" font-weight="normal" fill="#222" font-family='"Liberation Sans", sans-serif' >2</text>
<text x="176.10" y="550.70" font-size="5" text-anchor="middle" font-weight="normal" fill="#222" font-family='"Liberation Sans", sans-serif' >3</text>
<text x="218.40" y="550.70" font-size="5" text-anchor="middle" font-weight="normal" fill="#222" font-family='"Liberation Sans", sans-serif' >4</text>
<text x="258.50" y="550.70" font-size="5" text-anchor="middle" font-weight="normal" fill="#222" font-family='"Liberation Sans", sans-serif' >5</text>
<text x="296.40" y="550.70" font-size="5" text-anchor="middle" font-weight="normal" fill="#222" font-family='"Liberation Sans", sans-serif' >6</text>
<text x="333.60" y="550.70" font-size="5" text-anchor="middle" font-weight="normal" fill="#222" font-family='"Liberation Sans", sans-serif' >7</text>
<text x="367.80" y="550.70" font-size="5" text-anchor="middle" font-weight="normal" fill="#222" font-family='"Liberation Sans", sans-serif' >8</text>
<text x="396.70" y="550.70" font-size="5" text-anchor="middle" font-weight="normal" fill="#222" font-family='"Liberation Sans", sans-serif' >9</text>
<text x="423.70" y="550.70" font-size="5" text-anchor="middle" font-weight="normal" fill="#222" font-family='"Liberation Sans", sans-serif' >10</text>
<text x="453.20" y="550.70" font-size="5" text-anchor="middle" font-weight="normal" fill="#222" font-family='"Liberation Sans", sans-serif' >11</text>
<text x="482.50" y="550.70" font-size="5" text-anchor="middle" font-weight="normal" fill="#222" font-family='"Liberation Sans", sans-serif' >12</text>
<text x="507.20" y="550.70" font-size="5" text-anchor="middle" font-weight="normal" fill="#222" font-family='"Liberation Sans", sans-serif' >13</text>
<text x="527.60" y="550.70" font-size="5" text-anchor="middle" font-weight="normal" fill="#222" font-family='"Liberation Sans", sans-serif' >14</text>
<text x="545.70" y="550.70" font-size="5" text-anchor="middle" font-weight="normal" fill="#222" font-family='"Liberation Sans", sans-serif' >15</text>
<text x="564.10" y="550.70" font-size="5" text-anchor="middle" font-weight="normal" fill="#222" font-family='"Liberation Sans", sans-serif' >16</text>
<text x="581.90" y="550.70" font-size="5" text-anchor="middle" font-weight="normal" fill="#222" font-family='"Liberation Sans", sans-serif' >17</text>
<text x="598.30" y="550.70" font-size="5" text-anchor="middle" font-weight="normal" fill="#222" font-family='"Liberation Sans", sans-serif' >18</text>
<text x="613.40" y="550.70" font-size="5" text-anchor="middle" font-weight="normal" fill="#222" font-family='"Liberation Sans", sans-serif' >19</text>
<text x="626.50" y="550.70" font-size="5" text-anchor="middle" font-weight="normal" fill="#222" font-family='"Liberation Sans", sans-serif' >20</text>
<text x="637.20" y="550.70" font-size="5" text-anchor="middle" font-weight="normal" fill="#222" font-family='"Liberation Sans", sans-serif' >21</text>
<text x="645.70" y="550.70" font-size="5" text-anchor="middle" font-weight="normal" fill="#222" font-family='"Liberation Sans", sans-serif' >22</text>
<text x="0" y="0" font-size="10.5" text-anchor="middle" fill="#222" font-family='"Liberation Sans", sans-serif' transform="translate(34.7,530.5) rotate(-90)">TC</text>
<polygon points="41.80,797.00 41.80,796.44 41.81,795.95 41.82,795.49 41.83,795.04 41.85,794.61 41.87,794.18 41.89,793.76 41.92,793.35 41.94,792.94 41.97,792.54 42.01,791.94 42.04,790.86 42.08,789.77 42.12,788.68 42.16,787.58 42.20,786.49 42.25,785.40 42.30,784.31 42.35,783.22 42.40,782.14 42.46,781.07 42.51,780.00 42.57,778.93 42.64,777.88 42.70,776.83 42.76,775.78 42.83,774.75 42.90,773.72 42.97,772.70 43.05,771.68 43.12,770.68 43.20,769.68 43.28,768.68 43.36,767.70 43.45,766.72 43.53,765.75 43.62,764.79 43.71,763.83 43.80,762.98 43.89,762.39 43.99,761.80 44.09,761.22 44.19,760.64 44.29,760.06 44.39,759.50 44.49,758.94 44.60,758.38 44.71,757.83 44.82,757.28 44.93,756.74 45.04,756.21 45.16,755.68 45.28,755.15 45.40,754.63 45.52,754.12 45.64,753.61 45.76,753.10 45.89,752.60 46.02,752.11 46.15,751.61 46.28,751.13 46.41,750.64 46.54,750.16 46.68,749.69 46.82,749.22 46.96,748.75 47.10,748.29 47.24,747.83 47.39,747.38 47.54,746.92 47.68,746.48 47.83,746.03 47.99,745.59 48.14,745.16 48.29,744.72 48.45,744.29 48.61,743.86 48.77,743.44 48.93,743.02 49.09,742.60 49.26,742.19 49.43,741.78 49.59,741.37 49.76,740.96 49.94,740.56 50.11,740.16 50.28,739.76 50.46,739.37 50.64,738.98 50.82,738.59 51.00,738.20 51.18,737.82 51.37,737.43 51.55,737.05 51.74,736.68 51.93,736.30 52.12,735.93 52.31,735.56 52.50,735.19 52.70,734.82 52.90,734.45 53.10,734.09 53.30,733.73 53.50,733.37 53.70,733.01 53.91,732.66 54.11,732.30 54.32,731.95 54.53,731.60 54.74,731.25 54.95,730.90 55.17,730.56 55.38,730.21 55.60,729.87 55.82,729.53 56.04,729.19 56.26,728.85 56.48,728.51 56.71,728.18 56.93,727.84 57.16,727.51 57.39,727.18 57.62,726.85 57.85,726.52 58.09,726.19 58.32,725.86 58.56,725.53 58.80,725.21 59.04,724.88 59.28,724.56 59.52,724.24 59.77,723.92 60.01,723.60 60.26,723.28 60.51,722.96 60.76,722.64 61.01,722.32 61.26,722.00 61.52,721.69 61.77,721.37 62.03,721.06 62.29,720.74 62.55,720.43 62.81,720.12 63.08,719.81 63.34,719.49 63.61,719.18 63.87,718.87 64.14,718.56 64.41,718.25 64.69,717.95 64.96,717.64 65.24,717.33 65.51,717.02 65.79,716.72 66.07,716.41 66.35,716.10 66.63,715.80 66.92,715.49 67.20,715.19 67.49,714.88 67.77,714.58 68.06,714.27 68.35,713.97 68.65,713.67 68.94,713.36 69.24,713.06 69.53,712.76 69.83,712.45 70.13,712.15 70.43,711.85 70.73,711.55 71.04,711.25 71.34,710.94 71.65,710.64 71.95,710.34 72.26,710.04 72.57,709.74 72.89,709.44 73.20,709.14 73.51,708.84 73.83,708.54 74.15,708.24 74.47,707.93 74.79,707.63 75.11,707.33 75.43,707.03 75.76,706.73 76.08,706.43 76.41,706.13 76.74,705.83 77.07,705.53 77.40,705.23 77.73,704.93 78.06,704.63 78.40,704.33 78.74,704.03 79.08,703.73 79.41,703.43 79.76,703.13 80.10,702.83 80.44,702.53 80.79,702.23 81.13,701.93 81.48,701.63 81.83,701.33 82.18,701.03 82.53,700.72 82.89,700.42 83.24,700.12 83.60,699.82 83.95,699.52 84.31,699.22 84.67,698.92 85.03,698.62 85.40,698.32 85.76,698.01 86.12,697.71 86.49,697.41 86.86,697.11 87.23,696.81 87.60,696.51 87.97,696.20 88.34,695.90 88.72,695.60 89.10,695.30 89.47,695.00 89.85,694.69 90.23,694.39 90.61,694.09 91.00,693.79 91.38,693.48 91.76,693.18 92.15,692.88 92.54,692.57 92.93,692.27 93.32,691.97 93.71,691.67 94.10,691.36 94.50,691.06 94.89,690.76 95.29,690.45 95.69,690.15 96.09,689.85 96.49,689.54 96.89,689.24 97.30,688.94 97.70,688.63 98.11,688.33 98.52,688.02 98.93,687.72 99.34,687.42 99.75,687.11 100.16,686.81 100.58,686.51 100.99,686.20 101.41,685.90 101.83,685.59 102.25,685.29 102.67,684.99 103.09,684.68 103.51,684.38 103.94,684.08 104.36,683.77 104.79,683.47 105.22,683.17 105.65,682.86 106.08,682.56 106.51,682.26 106.94,681.95 107.38,681.65 107.82,681.35 108.25,681.04 108.69,680.74 109.13,680.44 109.57,680.13 110.02,679.83 110.46,679.53 110.90,679.23 111.35,678.92 111.80,678.62 112.25,678.32 112.70,678.02 113.15,677.72 113.60,677.42 114.06,677.11 114.51,676.81 114.97,676.51 115.43,676.21 115.89,675.91 116.35,675.61 116.81,675.31 117.27,675.01 117.74,674.71 118.20,674.41 118.67,674.11 119.14,673.82 119.61,673.52 120.08,673.22 120.55,672.92 121.02,672.62 121.50,672.33 121.97,672.03 122.45,671.73 122.93,671.44 123.41,671.14 123.89,670.85 124.37,670.55 124.85,670.26 125.34,669.96 125.82,669.67 126.31,669.37 126.80,669.08 127.29,668.79 127.78,668.50 128.27,668.21 128.76,667.91 129.26,667.62 129.75,667.33 130.25,667.04 130.75,666.75 131.25,666.47 131.75,666.18 132.25,665.89 132.75,665.60 133.26,665.32 133.76,665.03 134.27,664.74 134.78,664.46 135.29,664.18 135.80,663.89 136.31,663.61 136.82,663.33 137.34,663.04 137.85,662.76 138.37,662.48 138.89,662.20 139.40,661.92 139.93,661.65 140.45,661.37 140.97,661.09 141.49,660.82 142.02,660.54 142.55,660.27 143.07,659.99 143.60,659.72 144.13,659.45 144.66,659.18 145.20,658.91 145.73,658.64 146.27,658.37 146.80,658.10 147.34,657.83 147.88,657.57 148.42,657.30 148.96,657.04 149.50,656.77 150.05,656.51 150.59,656.25 151.14,655.99 151.68,655.73 152.23,655.47 152.78,655.21 153.33,654.96 153.89,654.70 154.44,654.45 154.99,654.19 155.55,653.94 156.11,653.69 156.66,653.44 157.22,653.19 157.78,652.94 158.35,652.70 158.91,652.45 159.47,652.20 160.04,651.96 160.61,651.72 161.17,651.48 161.74,651.24 162.31,651.00 162.88,650.76 163.46,650.53 164.03,650.29 164.61,650.06 165.18,649.83 165.76,649.60 166.34,649.37 166.92,649.14 167.50,648.91 168.08,648.69 168.66,648.46 169.25,648.24 169.83,648.02 170.42,647.80 171.01,647.58 171.60,647.36 172.19,647.15 172.78,646.93 173.37,646.72 173.97,646.51 174.56,646.30 175.16,646.09 175.76,645.89 176.36,645.68 176.96,645.48 177.56,645.28 178.16,645.08 178.76,644.88 179.37,644.68 179.98,644.49 180.58,644.29 181.19,644.10 181.80,643.91 182.41,643.72 183.02,643.54 183.64,643.35 184.25,643.17 184.87,642.99 185.48,642.81 186.10,642.63 186.72,642.45 187.34,642.28 187.96,642.11 188.58,641.94 189.21,641.77 189.83,641.60 190.46,641.44 191.09,641.27 191.71,641.11 192.34,640.95 192.98,640.80 193.61,640.64 194.24,640.49 194.87,640.34 195.51,640.19 196.15,640.04 196.78,639.89 197.42,639.75 198.06,639.61 198.70,639.47 199.35,639.33 199.99,639.20 200.64,639.07 201.28,638.94 201.93,638.81 202.58,638.68 203.23,638.56 203.88,638.44 204.53,638.32 205.18,638.20 205.84,638.08 206.49,637.97 207.15,637.86 207.81,637.75 208.46,637.65 209.12,637.54 209.78,637.44 210.45,637.34 211.11,637.24 211.78,637.15 212.44,637.06 213.11,636.97 213.78,636.88 214.44,636.79 215.12,636.71 215.79,636.63 216.46,636.55 217.13,636.48 217.81,636.41 218.48,636.33 219.16,636.27 219.84,636.20 220.52,636.20 221.20,636.20 221.88,636.20 222.56,636.20 223.25,636.20 223.93,636.20 224.62,636.20 225.31,636.20 226.00,636.20 226.69,636.20 227.38,636.20 228.07,636.20 228.76,636.20 229.46,636.20 230.15,636.20 230.85,636.20 231.55,636.20 232.25,636.20 232.95,636.20 233.65,636.20 234.35,636.20 235.05,636.20 235.76,636.20 236.47,636.20 237.17,636.20 237.88,636.20 238.59,636.20 239.30,636.20 239.30,636.20 238.59,636.20 237.88,636.21 237.17,636.22 236.47,636.23 235.76,636.25 235.05,636.26 234.35,636.28 233.65,636.29 232.95,636.31 232.25,636.33 231.55,636.34 230.85,636.36 230.15,636.38 229.46,636.40 228.76,636.42 228.07,636.45 227.38,636.47 226.69,636.49 226.00,636.51 225.31,636.54 224.62,636.56 223.93,636.63 223.25,636.73 222.56,636.84 221.88,636.94 221.20,637.05 220.52,637.17 219.84,637.29 219.16,637.41 218.48,637.53 217.81,637.66 217.13,637.79 216.46,637.92 215.79,638.05 215.12,638.19 214.44,638.34 213.78,638.48 213.11,638.63 212.44,638.78 211.78,638.93 211.11,639.09 210.45,639.25 209.78,639.41 209.12,639.58 208.46,639.75 207.81,639.92 207.15,640.09 206.49,640.27 205.84,640.45 205.18,640.63 204.53,640.81 203.88,641.00 203.23,641.19 202.58,641.38 201.93,641.58 201.28,641.77 200.64,641.97 199.99,642.18 199.35,642.38 198.70,642.59 198.06,642.80 197.42,643.01 196.78,643.23 196.15,643.44 195.51,643.66 194.87,643.88 194.24,644.11 193.61,644.33 192.98,644.56 192.34,644.79 191.71,645.03 191.09,645.26 190.46,645.50 189.83,645.74 189.21,645.98 188.58,646.23 187.96,646.47 187.34,646.72 186.72,646.97 186.10,647.23 185.48,647.48 184.87,647.74 184.25,648.00 183.64,648.26 183.02,648.52 182.41,648.78 181.80,649.05 181.19,649.32 180.58,649.59 179.98,649.86 179.37,650.14 178.76,650.41 178.16,650.69 177.56,650.97 176.96,651.25 176.36,651.53 175.76,651.82 175.16,652.11 174.56,652.39 173.97,652.68 173.37,652.98 172.78,653.27 172.19,653.56 171.60,653.86 171.01,654.16 170.42,654.46 169.83,654.76 169.25,655.06 168.66,655.37 168.08,655.67 167.50,655.98 166.92,656.29 166.34,656.60 165.76,656.91 165.18,657.23 164.61,657.54 164.03,657.86 163.46,658.18 162.88,658.49 162.31,658.81 161.74,659.14 161.17,659.46 160.61,659.78 160.04,660.11 159.47,660.44 158.91,660.76 158.35,661.09 157.78,661.42 157.22,661.76 156.66,662.09 156.11,662.42 155.55,662.76 154.99,663.10 154.44,663.43 153.89,663.77 153.33,664.11 152.78,664.45 152.23,664.80 151.68,665.14 151.14,665.48 150.59,665.83 150.05,666.17 149.50,666.52 148.96,666.87 148.42,667.22 147.88,667.57 147.34,667.92 146.80,668.27 146.27,668.62 145.73,668.98 145.20,669.33 144.66,669.69 144.13,670.04 143.60,670.40 143.07,670.76 142.55,671.12 142.02,671.48 141.49,671.84 140.97,672.20 140.45,672.56 139.93,672.92 139.40,673.28 138.89,673.65 138.37,674.01 137.85,674.38 137.34,674.74 136.82,675.11 136.31,675.48 135.80,675.84 135.29,676.21 134.78,676.58 134.27,676.95 133.76,677.32 133.26,677.69 132.75,678.06 132.25,678.44 131.75,678.81 131.25,679.18 130.75,679.55 130.25,679.93 129.75,680.30 129.26,680.68 128.76,681.05 128.27,681.43 127.78,681.80 127.29,682.18 126.80,682.56 126.31,682.93 125.82,683.31 125.34,683.69 124.85,684.07 124.37,684.44 123.89,684.82 123.41,685.20 122.93,685.58 122.45,685.96 121.97,686.34 121.50,686.72 121.02,687.10 120.55,687.48 120.08,687.86 119.61,688.24 119.14,688.63 118.67,689.01 118.20,689.39 117.74,689.77 117.27,690.15 116.81,690.54 116.35,690.92 115.89,691.30 115.43,691.68 114.97,692.07 114.51,692.45 114.06,692.83 113.60,693.22 113.15,693.60 112.70,693.98 112.25,694.37 111.80,694.75 111.35,695.13 110.90,695.52 110.46,695.90 110.02,696.28 109.57,696.67 109.13,697.05 108.69,697.43 108.25,697.82 107.82,698.20 107.38,698.58 106.94,698.97 106.51,699.35 106.08,699.73 105.65,700.12 105.22,700.50 104.79,700.88 104.36,701.27 103.94,701.65 103.51,702.03 103.09,702.42 102.67,702.80 102.25,703.18 101.83,703.56 101.41,703.95 100.99,704.33 100.58,704.71 100.16,705.09 99.75,705.47 99.34,705.85 98.93,706.24 98.52,706.62 98.11,707.00 97.70,707.38 97.30,707.76 96.89,708.14 96.49,708.52 96.09,708.90 95.69,709.28 95.29,709.66 94.89,710.04 94.50,710.42 94.10,710.80 93.71,711.18 93.32,711.55 92.93,711.93 92.54,712.31 92.15,712.69 91.76,713.07 91.38,713.44 91.00,713.82 90.61,714.20 90.23,714.57 89.85,714.95 89.47,715.33 89.10,715.70 88.72,716.08 88.34,716.45 87.97,716.83 87.60,717.20 87.23,717.58 86.86,717.95 86.49,718.33 86.12,718.70 85.76,719.07 85.40,719.45 85.03,719.82 84.67,720.19 84.31,720.56 83.95,720.94 83.60,721.31 83.24,721.68 82.89,722.05 82.53,722.42 82.18,722.79 81.83,723.16 81.48,723.53 81.13,723.90 80.79,724.27 80.44,724.64 80.10,725.01 79.76,725.38 79.41,725.75 79.08,726.12 78.74,726.49 78.40,726.85 78.06,727.22 77.73,727.59 77.40,727.96 77.07,728.32 76.74,728.69 76.41,729.06 76.08,729.42 75.76,729.79 75.43,730.16 75.11,730.52 74.79,730.89 74.47,731.25 74.15,731.62 73.83,731.98 73.51,732.35 73.20,732.71 72.89,733.08 72.57,733.44 72.26,733.81 71.95,734.17 71.65,734.54 71.34,734.90 71.04,735.26 70.73,735.63 70.43,735.99 70.13,736.36 69.83,736.72 69.53,737.08 69.24,737.45 68.94,737.81 68.65,738.17 68.35,738.54 68.06,738.90 67.77,739.27 67.49,739.63 67.20,739.99 66.92,740.36 66.63,740.72 66.35,741.09 66.07,741.45 65.79,741.82 65.51,742.18 65.24,742.55 64.96,742.91 64.69,743.28 64.41,743.64 64.14,744.01 63.87,744.37 63.61,744.74 63.34,745.11 63.08,745.47 62.81,745.84 62.55,746.21 62.29,746.57 62.03,746.94 61.77,747.31 61.52,747.68 61.26,748.05 61.01,748.42 60.76,748.79 60.51,749.16 60.26,749.53 60.01,749.91 59.77,750.28 59.52,750.65 59.28,751.02 59.04,751.40 58.80,751.77 58.56,752.15 58.32,752.53 58.09,752.90 57.85,753.28 57.62,753.66 57.39,754.04 57.16,754.42 56.93,754.80 56.71,755.19 56.48,755.57 56.26,755.96 56.04,756.34 55.82,756.73 55.60,757.12 55.38,757.51 55.17,757.90 54.95,758.29 54.74,758.68 54.53,759.07 54.32,759.47 54.11,759.87 53.91,760.26 53.70,760.66 53.50,761.06 53.30,761.47 53.10,761.87 52.90,762.28 52.70,762.68 52.50,763.09 52.31,763.50 52.12,763.91 51.93,764.33 51.74,764.75 51.55,765.16 51.37,765.58 51.18,766.01 51.00,766.43 50.82,766.86 50.64,767.28 50.46,767.71 50.28,768.15 50.11,768.58 49.94,769.02 49.76,769.46 49.59,769.90 49.43,770.35 49.26,770.79 49.09,771.24 48.93,771.70 48.77,772.15 48.61,772.61 48.45,773.07 48.29,773.53 48.14,774.00 47.99,774.47 47.83,774.95 47.68,775.42 47.54,775.90 47.39,776.38 47.24,776.87 47.10,777.36 46.96,777.85 46.82,778.35 46.68,778.85 46.54,779.36 46.41,779.87 46.28,780.38 46.15,780.89 46.02,781.41 45.89,781.94 45.76,782.47 45.64,783.00 45.52,783.54 45.40,784.08 45.28,784.62 45.16,785.17 45.04,785.73 44.93,786.29 44.82,786.85 44.71,787.42 44.60,788.00 44.49,788.58 44.39,789.16 44.29,789.75 44.19,790.34 44.09,790.94 43.99,791.55 43.89,792.16 43.80,792.78 43.71,793.15 43.62,793.43 43.53,793.71 43.45,794.00 43.36,794.29 43.28,794.59 43.20,794.88 43.12,795.19 43.05,795.50 42.97,795.81 42.90,796.12 42.83,796.44 42.76,796.76 42.70,797.00 42.64,797.00 42.57,797.00 42.51,797.00 42.46,797.00 42.40,797.00 42.35,797.00 42.30,797.00 42.25,797.00 42.20,797.00 42.16,797.00 42.12,797.00 42.08,797.00 42.04,797.00 42.01,797.00 41.97,797.00 41.94,797.00 41.92,797.00 41.89,797.00 41.87,797.00 41.85,797.00 41.83,797.00 41.82,797.00 41.81,797.00 41.80,797.00 41.80,797.00" fill="#c9dcf0" fill-opacity="0.85"/>
<polyline points="41.80,797.00 41.80,797.00 41.81,797.00 41.82,797.00 41.83,797.00 41.85,797.00 41.87,797.00 41.89,797.00 41.92,797.00 41.94,797.00 41.97,797.00 42.01,796.81 42.04,796.12 42.08,795.42 42.12,794.71 42.16,794.00 42.20,793.29 42.25,792.58 42.30,791.87 42.35,791.16 42.40,790.45 42.46,789.74 42.51,789.04 42.57,788.34 42.64,787.65 42.70,786.96 42.76,786.27 42.83,785.59 42.90,784.92 42.97,784.25 43.05,783.59 43.12,782.93 43.20,782.28 43.28,781.63 43.36,780.99 43.45,780.36 43.53,779.73 43.62,779.11 43.71,778.49 43.80,777.88 43.89,777.27 43.99,776.67 44.09,776.08 44.19,775.49 44.29,774.91 44.39,774.33 44.49,773.76 44.60,773.19 44.71,772.63 44.82,772.07 44.93,771.52 45.04,770.97 45.16,770.43 45.28,769.89 45.40,769.36 45.52,768.83 45.64,768.30 45.76,767.78 45.89,767.27 46.02,766.76 46.15,766.25 46.28,765.75 46.41,765.25 46.54,764.76 46.68,764.27 46.82,763.79 46.96,763.30 47.10,762.83 47.24,762.35 47.39,761.88 47.54,761.41 47.68,760.95 47.83,760.49 47.99,760.03 48.14,759.58 48.29,759.13 48.45,758.68 48.61,758.24 48.77,757.80 48.93,757.36 49.09,756.92 49.26,756.49 49.43,756.06 49.59,755.63 49.76,755.21 49.94,754.79 50.11,754.37 50.28,753.95 50.46,753.54 50.64,753.13 50.82,752.72 51.00,752.31 51.18,751.91 51.37,751.51 51.55,751.11 51.74,750.71 51.93,750.31 52.12,749.92 52.31,749.53 52.50,749.14 52.70,748.75 52.90,748.36 53.10,747.98 53.30,747.60 53.50,747.22 53.70,746.84 53.91,746.46 54.11,746.08 54.32,745.71 54.53,745.34 54.74,744.97 54.95,744.60 55.17,744.23 55.38,743.86 55.60,743.49 55.82,743.13 56.04,742.77 56.26,742.40 56.48,742.04 56.71,741.68 56.93,741.32 57.16,740.97 57.39,740.61 57.62,740.25 57.85,739.90 58.09,739.55 58.32,739.19 58.56,738.84 58.80,738.49 59.04,738.14 59.28,737.79 59.52,737.44 59.77,737.10 60.01,736.75 60.26,736.40 60.51,736.06 60.76,735.71 61.01,735.37 61.26,735.03 61.52,734.68 61.77,734.34 62.03,734.00 62.29,733.66 62.55,733.32 62.81,732.98 63.08,732.64 63.34,732.30 63.61,731.96 63.87,731.62 64.14,731.29 64.41,730.95 64.69,730.61 64.96,730.27 65.24,729.94 65.51,729.60 65.79,729.27 66.07,728.93 66.35,728.59 66.63,728.26 66.92,727.93 67.20,727.59 67.49,727.26 67.77,726.92 68.06,726.59 68.35,726.25 68.65,725.92 68.94,725.59 69.24,725.25 69.53,724.92 69.83,724.59 70.13,724.25 70.43,723.92 70.73,723.59 71.04,723.25 71.34,722.92 71.65,722.59 71.95,722.26 72.26,721.92 72.57,721.59 72.89,721.26 73.20,720.93 73.51,720.59 73.83,720.26 74.15,719.93 74.47,719.59 74.79,719.26 75.11,718.93 75.43,718.59 75.76,718.26 76.08,717.93 76.41,717.59 76.74,717.26 77.07,716.93 77.40,716.59 77.73,716.26 78.06,715.93 78.40,715.59 78.74,715.26 79.08,714.92 79.41,714.59 79.76,714.25 80.10,713.92 80.44,713.59 80.79,713.25 81.13,712.92 81.48,712.58 81.83,712.24 82.18,711.91 82.53,711.57 82.89,711.24 83.24,710.90 83.60,710.56 83.95,710.23 84.31,709.89 84.67,709.56 85.03,709.22 85.40,708.88 85.76,708.54 86.12,708.21 86.49,707.87 86.86,707.53 87.23,707.19 87.60,706.85 87.97,706.52 88.34,706.18 88.72,705.84 89.10,705.50 89.47,705.16 89.85,704.82 90.23,704.48 90.61,704.14 91.00,703.80 91.38,703.46 91.76,703.12 92.15,702.78 92.54,702.44 92.93,702.10 93.32,701.76 93.71,701.42 94.10,701.08 94.50,700.74 94.89,700.40 95.29,700.06 95.69,699.71 96.09,699.37 96.49,699.03 96.89,698.69 97.30,698.35 97.70,698.01 98.11,697.66 98.52,697.32 98.93,696.98 99.34,696.64 99.75,696.29 100.16,695.95 100.58,695.61 100.99,695.26 101.41,694.92 101.83,694.58 102.25,694.24 102.67,693.89 103.09,693.55 103.51,693.21 103.94,692.86 104.36,692.52 104.79,692.18 105.22,691.83 105.65,691.49 106.08,691.15 106.51,690.80 106.94,690.46 107.38,690.12 107.82,689.77 108.25,689.43 108.69,689.09 109.13,688.74 109.57,688.40 110.02,688.06 110.46,687.71 110.90,687.37 111.35,687.03 111.80,686.69 112.25,686.34 112.70,686.00 113.15,685.66 113.60,685.32 114.06,684.97 114.51,684.63 114.97,684.29 115.43,683.95 115.89,683.61 116.35,683.26 116.81,682.92 117.27,682.58 117.74,682.24 118.20,681.90 118.67,681.56 119.14,681.22 119.61,680.88 120.08,680.54 120.55,680.20 121.02,679.86 121.50,679.52 121.97,679.19 122.45,678.85 122.93,678.51 123.41,678.17 123.89,677.83 124.37,677.50 124.85,677.16 125.34,676.82 125.82,676.49 126.31,676.15 126.80,675.82 127.29,675.48 127.78,675.15 128.27,674.82 128.76,674.48 129.26,674.15 129.75,673.82 130.25,673.49 130.75,673.15 131.25,672.82 131.75,672.49 132.25,672.16 132.75,671.83 133.26,671.50 133.76,671.18 134.27,670.85 134.78,670.52 135.29,670.19 135.80,669.87 136.31,669.54 136.82,669.22 137.34,668.89 137.85,668.57 138.37,668.25 138.89,667.93 139.40,667.60 139.93,667.28 140.45,666.96 140.97,666.64 141.49,666.33 142.02,666.01 142.55,665.69 143.07,665.38 143.60,665.06 144.13,664.75 144.66,664.43 145.20,664.12 145.73,663.81 146.27,663.50 146.80,663.18 147.34,662.88 147.88,662.57 148.42,662.26 148.96,661.95 149.50,661.65 150.05,661.34 150.59,661.04 151.14,660.74 151.68,660.43 152.23,660.13 152.78,659.83 153.33,659.53 153.89,659.24 154.44,658.94 154.99,658.64 155.55,658.35 156.11,658.06 156.66,657.76 157.22,657.47 157.78,657.18 158.35,656.89 158.91,656.61 159.47,656.32 160.04,656.04 160.61,655.75 161.17,655.47 161.74,655.19 162.31,654.91 162.88,654.63 163.46,654.35 164.03,654.08 164.61,653.80 165.18,653.53 165.76,653.25 166.34,652.98 166.92,652.71 167.50,652.45 168.08,652.18 168.66,651.91 169.25,651.65 169.83,651.39 170.42,651.13 171.01,650.87 171.60,650.61 172.19,650.36 172.78,650.10 173.37,649.85 173.97,649.60 174.56,649.35 175.16,649.10 175.76,648.85 176.36,648.61 176.96,648.36 177.56,648.12 178.16,647.88 178.76,647.64 179.37,647.41 179.98,647.17 180.58,646.94 181.19,646.71 181.80,646.48 182.41,646.25 183.02,646.03 183.64,645.80 184.25,645.58 184.87,645.36 185.48,645.14 186.10,644.93 186.72,644.71 187.34,644.50 187.96,644.29 188.58,644.08 189.21,643.88 189.83,643.67 190.46,643.47 191.09,643.27 191.71,643.07 192.34,642.87 192.98,642.68 193.61,642.49 194.24,642.30 194.87,642.11 195.51,641.92 196.15,641.74 196.78,641.56 197.42,641.38 198.06,641.20 198.70,641.03 199.35,640.86 199.99,640.69 200.64,640.52 201.28,640.36 201.93,640.19 202.58,640.03 203.23,639.87 203.88,639.72 204.53,639.56 205.18,639.41 205.84,639.26 206.49,639.12 207.15,638.98 207.81,638.83 208.46,638.70 209.12,638.56 209.78,638.43 210.45,638.30 211.11,638.17 211.78,638.04 212.44,637.92 213.11,637.80 213.78,637.68 214.44,637.57 215.12,637.45 215.79,637.34 216.46,637.24 217.13,637.13 217.81,637.03 218.48,636.93 219.16,636.84 219.84,636.74 220.52,636.65 221.20,636.57 221.88,636.48 222.56,636.40 223.25,636.32 223.93,636.25 224.62,636.20 225.31,636.20 226.00,636.20 226.69,636.20 227.38,636.20 228.07,636.20 228.76,636.20 229.46,636.20 230.15,636.20 230.85,636.20 231.55,636.20 232.25,636.20 232.95,636.20 233.65,636.20 234.35,636.20 235.05,636.20 235.76,636.20 236.47,636.20 237.17,636.20 237.88,636.20 238.59,636.20 239.30,636.20" fill="none" stroke="#3c75bd" stroke-width="1"/>
<line x1="41.80" y1="797.00" x2="239.30" y2="636.20" stroke="#111" stroke-width="1.15" stroke-dasharray="3.6,2.2"/>
<rect x="41.8" y="636.2" width="197.5" height="160.79999999999995" fill="none" stroke="#222" stroke-width="0.9"/>
<line x1="41.80" y1="636.20" x2="41.80" y2="743.94" stroke="#9a8f86" stroke-width="1.0" />
<polygon points="41.80,743.94 41.80,636.20 48.12,636.20 44.56,652.28 43.38,684.44 42.79,716.60" fill="#fbd9b5" fill-opacity="0.95"/>
<polyline points="41.80,743.94 42.20,700.52 42.98,660.32 44.17,642.63 45.75,637.00 47.72,636.20 239.30,636.20" fill="none" stroke="#f7901e" stroke-width="1.2"/>
<line x1="41.80" y1="635.60" x2="239.30" y2="635.60" stroke="#bbbbbb" stroke-width="0.5" />
<line x1="39.80" y1="797.00" x2="41.80" y2="797.00" stroke="#222" stroke-width="0.7" />
<text x="38.60" y="800.10" font-size="6.3" text-anchor="end" font-weight="normal" fill="#111" font-family='"Liberation Sans", sans-serif' >0.0</text>
<line x1="41.80" y1="797.00" x2="41.80" y2="799.00" stroke="#222" stroke-width="0.7" />
<text x="41.80" y="805.70" font-size="6.3" text-anchor="middle" font-weight="normal" fill="#111" font-family='"Liberation Sans", sans-serif' >0.0</text>
<line x1="39.80" y1="764.84" x2="41.80" y2="764.84" stroke="#222" stroke-width="0.7" />
<text x="38.60" y="767.94" font-size="6.3" text-anchor="end" font-weight="normal" fill="#111" font-family='"Liberation Sans", sans-serif' >0.2</text>
<line x1="81.30" y1="797.00" x2="81.30" y2="799.00" stroke="#222" stroke-width="0.7" />
<text x="81.30" y="805.70" font-size="6.3" text-anchor="middle" font-weight="normal" fill="#111" font-family='"Liberation Sans", sans-serif' >0.2</text>
<line x1="39.80" y1="732.68" x2="41.80" y2="732.68" stroke="#222" stroke-width="0.7" />
<text x="38.60" y="735.78" font-size="6.3" text-anchor="end" font-weight="normal" fill="#111" font-family='"Liberation Sans", sans-serif' >0.4</text>
<line x1="120.80" y1="797.00" x2="120.80" y2="799.00" stroke="#222" stroke-width="0.7" />
<text x="120.80" y="805.70" font-size="6.3" text-anchor="middle" font-weight="normal" fill="#111" font-family='"Liberation Sans", sans-serif' >0.4</text>
<line x1="39.80" y1="700.52" x2="41.80" y2="700.52" stroke="#222" stroke-width="0.7" />
<text x="38.60" y="703.62" font-size="6.3" text-anchor="end" font-weight="normal" fill="#111" font-family='"Liberation Sans", sans-serif' >0.6</text>
<line x1="160.30" y1="797.00" x2="160.30" y2="799.00" stroke="#222" stroke-width="0.7" />
<text x="160.30" y="805.70" font-size="6.3" text-anchor="middle" font-weight="normal" fill="#111" font-family='"Liberation Sans", sans-serif' >0.6</text>
<line x1="39.80" y1="668.36" x2="41.80" y2="668.36" stroke="#222" stroke-width="0.7" />
<text x="38.60" y="671.46" font-size="6.3" text-anchor="end" font-weight="normal" fill="#111" font-family='"Liberation Sans", sans-serif' >0.8</text>
<line x1="199.80" y1="797.00" x2="199.80" y2="799.00" stroke="#222" stroke-width="0.7" />
<text x="199.80" y="805.70" font-size="6.3" text-anchor="middle" font-weight="normal" fill="#111" font-family='"Liberation Sans", sans-serif' >0.8</text>
<line x1="39.80" y1="636.20" x2="41.80" y2="636.20" stroke="#222" stroke-width="0.7" />
<text x="38.60" y="639.30" font-size="6.3" text-anchor="end" font-weight="normal" fill="#111" font-family='"Liberation Sans", sans-serif' >1.0</text>
<line x1="239.30" y1="797.00" x2="239.30" y2="799.00" stroke="#222" stroke-width="0.7" />
<text x="239.30" y="805.70" font-size="6.3" text-anchor="middle" font-weight="normal" fill="#111" font-family='"Liberation Sans", sans-serif' >1.0</text>
<text x="140.80" y="814.20" font-size="6.2" text-anchor="middle" font-weight="normal" fill="#111" font-family='"Liberation Sans", sans-serif' >Percent of genome covered</text>
<text x="0" y="0" font-size="6.8" text-anchor="middle" fill="#111" font-family='"Liberation Sans", sans-serif' transform="translate(26.6,715.5) rotate(-90)">Percent of total SNP-heritability</text>
<rect x="193.4" y="765.4" width="43.3" height="28.1" rx="1.5" fill="#fff" fill-opacity="0.85" stroke="#d0d0d0" stroke-width="0.6"/>
<line x1="195.80" y1="770.10" x2="207.50" y2="770.10" stroke="#3c75bd" stroke-width="1.1" />
<line x1="195.80" y1="778.90" x2="207.50" y2="778.90" stroke="#f58518" stroke-width="1.1" />
<line x1="195.80" y1="787.70" x2="207.50" y2="787.70" stroke="#111" stroke-width="1" stroke-dasharray="2.2,1.5"/>
<text x="213.80" y="773.70" font-size="7.6" text-anchor="start" font-weight="normal" fill="#111" font-family='"Liberation Sans", sans-serif' >PCa</text>
<text x="215.10" y="783.00" font-size="7.6" text-anchor="start" font-weight="normal" fill="#111" font-family='"Liberation Sans", sans-serif' >TC</text>
<text x="213.00" y="790.20" font-size="6.9" text-anchor="start" font-weight="normal" fill="#111" font-family='"Liberation Sans", sans-serif' >y= x</text>
<text x="415.30" y="601.90" font-size="9.1" text-anchor="middle" font-weight="bold" fill="#111" font-family='"Liberation Sans", sans-serif' >Prostate Cancer</text>
<line x1="371.40" y1="623.40" x2="462.30" y2="623.40" stroke="#e8e8e8" stroke-width="0.8" />
<line x1="371.40" y1="632.19" x2="462.30" y2="632.19" stroke="#e8e8e8" stroke-width="0.8" />
<line x1="371.40" y1="640.98" x2="462.30" y2="640.98" stroke="#e8e8e8" stroke-width="0.8" />
<line x1="371.40" y1="649.77" x2="462.30" y2="649.77" stroke="#e8e8e8" stroke-width="0.8" />
<line x1="371.40" y1="658.56" x2="462.30" y2="658.56" stroke="#e8e8e8" stroke-width="0.8" />
<line x1="371.40" y1="667.35" x2="462.30" y2="667.35" stroke="#e8e8e8" stroke-width="0.8" />
<line x1="371.40" y1="676.14" x2="462.30" y2="676.14" stroke="#e8e8e8" stroke-width="0.8" />
<line x1="371.40" y1="684.93" x2="462.30" y2="684.93" stroke="#e8e8e8" stroke-width="0.8" />
<line x1="371.40" y1="693.72" x2="462.30" y2="693.72" stroke="#e8e8e8" stroke-width="0.8" />
<line x1="371.40" y1="702.51" x2="462.30" y2="702.51" stroke="#e8e8e8" stroke-width="0.8" />
<line x1="371.40" y1="711.30" x2="462.30" y2="711.30" stroke="#e8e8e8" stroke-width="0.8" />
<line x1="371.40" y1="720.09" x2="462.30" y2="720.09" stroke="#e8e8e8" stroke-width="0.8" />
<line x1="371.40" y1="728.88" x2="462.30" y2="728.88" stroke="#e8e8e8" stroke-width="0.8" />
<line x1="371.40" y1="737.67" x2="462.30" y2="737.67" stroke="#e8e8e8" stroke-width="0.8" />
<line x1="371.40" y1="746.46" x2="462.30" y2="746.46" stroke="#e8e8e8" stroke-width="0.8" />
<line x1="371.40" y1="755.25" x2="462.30" y2="755.25" stroke="#e8e8e8" stroke-width="0.8" />
<line x1="371.40" y1="764.04" x2="462.30" y2="764.04" stroke="#e8e8e8" stroke-width="0.8" />
<line x1="371.40" y1="772.83" x2="462.30" y2="772.83" stroke="#e8e8e8" stroke-width="0.8" />
<line x1="371.40" y1="781.62" x2="462.30" y2="781.62" stroke="#e8e8e8" stroke-width="0.8" />
<line x1="371.40" y1="790.41" x2="462.30" y2="790.41" stroke="#e8e8e8" stroke-width="0.8" />
<line x1="371.40" y1="799.20" x2="462.30" y2="799.20" stroke="#e8e8e8" stroke-width="0.8" />
<line x1="371.40" y1="807.99" x2="462.30" y2="807.99" stroke="#e8e8e8" stroke-width="0.8" />
<line x1="371.40" y1="816.78" x2="462.30" y2="816.78" stroke="#e8e8e8" stroke-width="0.8" />
<line x1="371.40" y1="825.57" x2="462.30" y2="825.57" stroke="#e8e8e8" stroke-width="0.8" />
<line x1="371.40" y1="834.36" x2="462.30" y2="834.36" stroke="#e8e8e8" stroke-width="0.8" />
<line x1="371.40" y1="843.15" x2="462.30" y2="843.15" stroke="#e8e8e8" stroke-width="0.8" />
<line x1="371.40" y1="851.94" x2="462.30" y2="851.94" stroke="#e8e8e8" stroke-width="0.8" />
<line x1="371.40" y1="860.73" x2="462.30" y2="860.73" stroke="#e8e8e8" stroke-width="0.8" />
<line x1="392.50" y1="614.30" x2="392.50" y2="869.50" stroke="#e6e6e6" stroke-width="0.6" />
<line x1="439.50" y1="614.30" x2="439.50" y2="869.50" stroke="#e6e6e6" stroke-width="0.6" />
<line x1="416.00" y1="614.30" x2="416.00" y2="869.50" stroke="#999" stroke-width="0.6" stroke-dasharray="1,1"/>
<line x1="416.00" y1="623.40" x2="405.90" y2="623.40" stroke="#e18e56" stroke-width="0.9" />
<circle cx="405.90" cy="623.40" r="1.5" fill="#d55e0e"/>
<line x1="416.00" y1="632.19" x2="416.80" y2="632.19" stroke="#e9935e" stroke-width="0.9" />
<circle cx="416.80" cy="632.19" r="1.3" fill="#e0651a"/>
<line x1="416.00" y1="640.98" x2="416.80" y2="640.98" stroke="#fdebd5" stroke-width="0.9" />
<circle cx="416.80" cy="640.98" r="1.1" fill="#fde3c4"/>
<line x1="416.00" y1="649.77" x2="417.30" y2="649.77" stroke="#f4ad6e" stroke-width="0.9" />
<circle cx="417.30" cy="649.77" r="1.2" fill="#f08a30"/>
<line x1="416.00" y1="658.56" x2="419.00" y2="658.56" stroke="#fdf1e1" stroke-width="0.9" />
<circle cx="419.00" cy="658.56" r="1.1" fill="#fdebd5"/>
<line x1="416.00" y1="667.35" x2="419.30" y2="667.35" stroke="#fae3c7" stroke-width="0.9" />
<circle cx="419.30" cy="667.35" r="2.7" fill="#f9d8b0"/>
<line x1="416.00" y1="676.14" x2="419.30" y2="676.14" stroke="#fdf1e3" stroke-width="0.9" />
<circle cx="419.30" cy="676.14" r="1.1" fill="#fdebd8"/>
<line x1="416.00" y1="684.93" x2="419.70" y2="684.93" stroke="#f19a5a" stroke-width="0.9" />
<circle cx="419.70" cy="684.93" r="1.6" fill="#ec7014"/>
<line x1="416.00" y1="693.72" x2="420.50" y2="693.72" stroke="#cd8053" stroke-width="0.9" />
<circle cx="420.50" cy="693.72" r="1.4" fill="#b84a0a"/>
<line x1="416.00" y1="702.51" x2="420.50" y2="702.51" stroke="#fcedde" stroke-width="0.9" />
<circle cx="420.50" cy="702.51" r="1.3" fill="#fbe6d0"/>
<line x1="416.00" y1="711.30" x2="421.90" y2="711.30" stroke="#d88654" stroke-width="0.9" />
<circle cx="421.90" cy="711.30" r="1.4" fill="#c8530c"/>
<line x1="416.00" y1="720.09" x2="421.90" y2="720.09" stroke="#fdf3e7" stroke-width="0.9" />
<circle cx="421.90" cy="720.09" r="1.2" fill="#fdeede"/>
<line x1="416.00" y1="728.88" x2="422.10" y2="728.88" stroke="#de8854" stroke-width="0.9" />
<circle cx="422.10" cy="728.88" r="1.5" fill="#d0560c"/>
<line x1="416.00" y1="737.67" x2="424.80" y2="737.67" stroke="#f8d2ad" stroke-width="0.9" />
<circle cx="424.80" cy="737.67" r="1.3" fill="#f5c08a"/>
<line x1="416.00" y1="746.46" x2="427.30" y2="746.46" stroke="#f8d2ad" stroke-width="0.9" />
<circle cx="427.30" cy="746.46" r="1.3" fill="#f5c08a"/>
<line x1="416.00" y1="755.25" x2="427.30" y2="755.25" stroke="#976957" stroke-width="0.9" />
<circle cx="427.30" cy="755.25" r="1.5" fill="#6b2a10"/>
<line x1="416.00" y1="764.04" x2="428.80" y2="764.04" stroke="#f9d7b4" stroke-width="0.9" />
<circle cx="428.80" cy="764.04" r="1.3" fill="#f7c795"/>
<line x1="416.00" y1="772.83" x2="433.90" y2="772.83" stroke="#fcebd8" stroke-width="0.9" />
<circle cx="433.90" cy="772.83" r="1.2" fill="#fbe3c8"/>
<line x1="416.00" y1="781.62" x2="436.20" y2="781.62" stroke="#f8d6b1" stroke-width="0.9" />
<circle cx="436.20" cy="781.62" r="1.3" fill="#f6c590"/>
<line x1="416.00" y1="790.41" x2="437.90" y2="790.41" stroke="#fcecdb" stroke-width="0.9" />
<circle cx="437.90" cy="790.41" r="1.3" fill="#fbe5cc"/>
<line x1="416.00" y1="799.20" x2="437.90" y2="799.20" stroke="#fdf4ea" stroke-width="0.9" />
<circle cx="437.90" cy="799.20" r="1.2" fill="#fdf0e2"/>
<line x1="416.00" y1="807.99" x2="445.30" y2="807.99" stroke="#fdf4ea" stroke-width="0.9" />
<circle cx="445.30" cy="807.99" r="1.2" fill="#fdf0e2"/>
<line x1="416.00" y1="816.78" x2="445.80" y2="816.78" stroke="#fdf4ea" stroke-width="0.9" />
<circle cx="445.80" cy="816.78" r="1.2" fill="#fdf0e2"/>
<line x1="416.00" y1="825.57" x2="448.60" y2="825.57" stroke="#f8d8b6" stroke-width="0.9" />
<circle cx="448.60" cy="825.57" r="1.3" fill="#f6c898"/>
<line x1="416.00" y1="834.36" x2="449.50" y2="834.36" stroke="#fadfc2" stroke-width="0.9" />
<circle cx="449.50" cy="834.36" r="1.3" fill="#f8d2a8"/>
<line x1="416.00" y1="843.15" x2="455.00" y2="843.15" stroke="#fdf5ed" stroke-width="0.9" />
<circle cx="455.00" cy="843.15" r="1.2" fill="#fdf2e6"/>
<line x1="416.00" y1="851.94" x2="455.80" y2="851.94" stroke="#f8bc84" stroke-width="0.9" />
<circle cx="455.80" cy="851.94" r="1.3" fill="#f5a050"/>
<line x1="416.00" y1="860.73" x2="458.90" y2="860.73" stroke="#f8d2ab" stroke-width="0.9" />
<circle cx="458.90" cy="860.73" r="1.3" fill="#f6c088"/>
<rect x="371.4" y="614.3" width="90.90000000000003" height="255.20000000000005" fill="none" stroke="#222" stroke-width="0.9"/>
<line x1="368.80" y1="614.30" x2="371.40" y2="614.30" stroke="#222" stroke-width="0.9" />
<line x1="368.80" y1="623.40" x2="371.40" y2="623.40" stroke="#222" stroke-width="0.7" />
<text x="363.50" y="625.70" font-size="6.6" text-anchor="end" font-weight="normal" fill="#222" font-family='"Liberation Sans", sans-serif' textLength="34.7" lengthAdjust="spacingAndGlyphs">CTCF_Hoffman</text>
<line x1="368.80" y1="632.19" x2="371.40" y2="632.19" stroke="#222" stroke-width="0.7" />
<text x="363.70" y="634.22" font-size="5.25" text-anchor="end" font-weight="normal" fill="#222" font-family='"Liberation Sans", sans-serif' >MAFbin5</text>
<line x1="368.80" y1="640.98" x2="371.40" y2="640.98" stroke="#222" stroke-width="0.7" />
<text x="363.70" y="643.05" font-size="5.25" text-anchor="end" font-weight="normal" fill="#222" font-family='"Liberation Sans", sans-serif' >MAFbin1</text>
<line x1="368.80" y1="649.77" x2="371.40" y2="649.77" stroke="#222" stroke-width="0.7" />
<text x="363.70" y="651.88" font-size="5.25" text-anchor="end" font-weight="normal" fill="#222" font-family='"Liberation Sans", sans-serif' >MAFbin2</text>
<line x1="368.80" y1="658.56" x2="371.40" y2="658.56" stroke="#222" stroke-width="0.7" />
<text x="363.30" y="660.86" font-size="6.6" text-anchor="end" font-weight="normal" fill="#222" font-family='"Liberation Sans", sans-serif' textLength="51.8" lengthAdjust="spacingAndGlyphs">CpG_Content_50kb</text>
<line x1="368.80" y1="667.35" x2="371.40" y2="667.35" stroke="#222" stroke-width="0.7" />
<text x="363.70" y="669.52" font-size="5.25" text-anchor="end" font-weight="normal" fill="#222" font-family='"Liberation Sans", sans-serif' >GERP.NS</text>
<line x1="368.80" y1="676.14" x2="371.40" y2="676.14" stroke="#222" stroke-width="0.7" />
<text x="363.70" y="678.35" font-size="5.25" text-anchor="end" font-weight="normal" fill="#222" font-family='"Liberation Sans", sans-serif' >Backgrd_Selection_Stat</text>
<line x1="368.80" y1="684.93" x2="371.40" y2="684.93" stroke="#222" stroke-width="0.7" />
<text x="363.70" y="687.17" font-size="5.25" text-anchor="end" font-weight="normal" fill="#222" font-family='"Liberation Sans", sans-serif' >H3K4me1_TRynka</text>
<line x1="368.80" y1="693.72" x2="371.40" y2="693.72" stroke="#222" stroke-width="0.7" />
<text x="363.70" y="696.00" font-size="5.25" text-anchor="end" font-weight="normal" fill="#222" font-family='"Liberation Sans", sans-serif' >MAFbin7</text>
<line x1="368.80" y1="702.51" x2="371.40" y2="702.51" stroke="#222" stroke-width="0.7" />
<text x="363.70" y="704.83" font-size="5.25" text-anchor="end" font-weight="normal" fill="#222" font-family='"Liberation Sans", sans-serif' >H3K27ac_Hnisz</text>
<line x1="368.80" y1="711.30" x2="371.40" y2="711.30" stroke="#222" stroke-width="0.7" />
<text x="363.70" y="713.65" font-size="5.25" text-anchor="end" font-weight="normal" fill="#222" font-family='"Liberation Sans", sans-serif' >H3K4me3_TRynka</text>
<line x1="368.80" y1="720.09" x2="371.40" y2="720.09" stroke="#222" stroke-width="0.7" />
<text x="363.70" y="722.47" font-size="5.25" text-anchor="end" font-weight="normal" fill="#222" font-family='"Liberation Sans", sans-serif' >SuperEnhancer_Hnisz</text>
<line x1="368.80" y1="728.88" x2="371.40" y2="728.88" stroke="#222" stroke-width="0.7" />
<text x="363.70" y="731.30" font-size="5.25" text-anchor="end" font-weight="normal" fill="#222" font-family='"Liberation Sans", sans-serif' >H3K9ac_Trynka</text>
<line x1="368.80" y1="737.67" x2="371.40" y2="737.67" stroke="#222" stroke-width="0.7" />
<text x="363.70" y="740.12" font-size="5.25" text-anchor="end" font-weight="normal" fill="#222" font-family='"Liberation Sans", sans-serif' >Human_Enhancer_Villar</text>
<line x1="368.80" y1="746.46" x2="371.40" y2="746.46" stroke="#222" stroke-width="0.7" />
<text x="363.70" y="748.95" font-size="5.25" text-anchor="end" font-weight="normal" fill="#222" font-family='"Liberation Sans", sans-serif' >BLUEPRINT_DNA_methylation_MaxCPP</text>
<line x1="368.80" y1="755.25" x2="371.40" y2="755.25" stroke="#222" stroke-width="0.7" />
<text x="363.70" y="757.77" font-size="5.25" text-anchor="end" font-weight="normal" fill="#222" font-family='"Liberation Sans", sans-serif' >BLUEPRINT_H3K27acQTL_MaxCPP</text>
<line x1="368.80" y1="764.04" x2="371.40" y2="764.04" stroke="#222" stroke-width="0.7" />
<text x="363.70" y="766.60" font-size="5.25" text-anchor="end" font-weight="normal" fill="#222" font-family='"Liberation Sans", sans-serif' >Human_Enhancer_Villar_Species_Enhancer_Count</text>
<line x1="368.80" y1="772.83" x2="371.40" y2="772.83" stroke="#222" stroke-width="0.7" />
<text x="363.70" y="775.42" font-size="5.25" text-anchor="end" font-weight="normal" fill="#222" font-family='"Liberation Sans", sans-serif' >Human_Promoter_Villar</text>
<line x1="368.80" y1="781.62" x2="371.40" y2="781.62" stroke="#222" stroke-width="0.7" />
<text x="363.70" y="784.25" font-size="5.25" text-anchor="end" font-weight="normal" fill="#222" font-family='"Liberation Sans", sans-serif' >UTR_3UCSC</text>
<line x1="368.80" y1="790.41" x2="371.40" y2="790.41" stroke="#222" stroke-width="0.7" />
<text x="363.70" y="793.07" font-size="5.25" text-anchor="end" font-weight="normal" fill="#222" font-family='"Liberation Sans", sans-serif' >Coding_UCSC</text>
<line x1="368.80" y1="799.20" x2="371.40" y2="799.20" stroke="#222" stroke-width="0.7" />
<text x="363.70" y="801.90" font-size="5.25" text-anchor="end" font-weight="normal" fill="#222" font-family='"Liberation Sans", sans-serif' >Conserved_Vertebrate_phastCons46way</text>
<line x1="368.80" y1="807.99" x2="371.40" y2="807.99" stroke="#222" stroke-width="0.7" />
<text x="363.70" y="810.73" font-size="5.25" text-anchor="end" font-weight="normal" fill="#222" font-family='"Liberation Sans", sans-serif' >Conserved_Mammal_phastCons46way</text>
<line x1="368.80" y1="816.78" x2="371.40" y2="816.78" stroke="#222" stroke-width="0.7" />
<text x="363.70" y="819.55" font-size="5.25" text-anchor="end" font-weight="normal" fill="#222" font-family='"Liberation Sans", sans-serif' >Conserved_LindbladToh</text>
<line x1="368.80" y1="825.57" x2="371.40" y2="825.57" stroke="#222" stroke-width="0.7" />
<text x="363.70" y="828.37" font-size="5.25" text-anchor="end" font-weight="normal" fill="#222" font-family='"Liberation Sans", sans-serif' >GERP.RSsup4</text>
<line x1="368.80" y1="834.36" x2="371.40" y2="834.36" stroke="#222" stroke-width="0.7" />
<text x="363.70" y="837.20" font-size="5.25" text-anchor="end" font-weight="normal" fill="#222" font-family='"Liberation Sans", sans-serif' >Promoter_UCSC.flanking.500</text>
<line x1="368.80" y1="843.15" x2="371.40" y2="843.15" stroke="#222" stroke-width="0.7" />
<text x="363.70" y="846.02" font-size="5.25" text-anchor="end" font-weight="normal" fill="#222" font-family='"Liberation Sans", sans-serif' >Conserved_Primate_PphastCons46way</text>
<line x1="368.80" y1="851.94" x2="371.40" y2="851.94" stroke="#222" stroke-width="0.7" />
<text x="363.70" y="854.85" font-size="5.25" text-anchor="end" font-weight="normal" fill="#222" font-family='"Liberation Sans", sans-serif' >Human_Promoter_Villar_ExAC</text>
<line x1="368.80" y1="860.73" x2="371.40" y2="860.73" stroke="#222" stroke-width="0.7" />
<text x="363.70" y="863.68" font-size="5.25" text-anchor="end" font-weight="normal" fill="#222" font-family='"Liberation Sans", sans-serif' >Ancient_Sequence_Age_Human_Promoter</text>
<line x1="392.50" y1="869.50" x2="392.50" y2="871.30" stroke="#222" stroke-width="0.7" />
<text x="392.50" y="877.40" font-size="5" text-anchor="middle" font-weight="normal" fill="#666" font-family='"Liberation Sans", sans-serif' >−10</text>
<line x1="416.00" y1="869.50" x2="416.00" y2="871.30" stroke="#222" stroke-width="0.7" />
<text x="416.00" y="877.40" font-size="5" text-anchor="middle" font-weight="normal" fill="#666" font-family='"Liberation Sans", sans-serif' >0</text>
<line x1="439.50" y1="869.50" x2="439.50" y2="871.30" stroke="#222" stroke-width="0.7" />
<text x="439.50" y="877.40" font-size="5" text-anchor="middle" font-weight="normal" fill="#666" font-family='"Liberation Sans", sans-serif' >10</text>
<line x1="371.40" y1="869.50" x2="371.40" y2="871.30" stroke="#222" stroke-width="0.7" />
<line x1="462.30" y1="869.50" x2="462.30" y2="871.30" stroke="#222" stroke-width="0.7" />
<text x="421.80" y="888.20" font-size="7.2" text-anchor="middle" font-weight="normal" fill="#222" font-family='"Liberation Sans", sans-serif' >Enrichment</text>
<rect x="325.2" y="616.8" width="39.7" height="12.4" fill="none" stroke="#d8232a" stroke-width="1.1"/>
<rect x="307.6" y="653.1" width="59.4" height="11.8" fill="none" stroke="#d8232a" stroke-width="1.1"/>
<text x="597.50" y="601.40" font-size="9.1" text-anchor="middle" font-weight="bold" fill="#111" font-family='"Liberation Sans", sans-serif' >Testicular Cancer</text>
<line x1="558.50" y1="648.40" x2="634.50" y2="648.40" stroke="#e8e8e8" stroke-width="0.8" />
<line x1="558.50" y1="679.80" x2="634.50" y2="679.80" stroke="#e8e8e8" stroke-width="0.8" />
<line x1="558.50" y1="711.20" x2="634.50" y2="711.20" stroke="#e8e8e8" stroke-width="0.8" />
<line x1="558.50" y1="742.60" x2="634.50" y2="742.60" stroke="#e8e8e8" stroke-width="0.8" />
<line x1="558.50" y1="774.00" x2="634.50" y2="774.00" stroke="#e8e8e8" stroke-width="0.8" />
<line x1="558.50" y1="805.40" x2="634.50" y2="805.40" stroke="#e8e8e8" stroke-width="0.8" />
<line x1="558.50" y1="836.80" x2="634.50" y2="836.80" stroke="#e8e8e8" stroke-width="0.8" />
<line x1="562.40" y1="617.40" x2="562.40" y2="868.30" stroke="#e6e6e6" stroke-width="0.6" />
<line x1="573.40" y1="617.40" x2="573.40" y2="868.30" stroke="#e6e6e6" stroke-width="0.6" />
<line x1="584.40" y1="617.40" x2="584.40" y2="868.30" stroke="#e6e6e6" stroke-width="0.6" />
<line x1="606.40" y1="617.40" x2="606.40" y2="868.30" stroke="#e6e6e6" stroke-width="0.6" />
<line x1="617.40" y1="617.40" x2="617.40" y2="868.30" stroke="#e6e6e6" stroke-width="0.6" />
<line x1="628.40" y1="617.40" x2="628.40" y2="868.30" stroke="#e6e6e6" stroke-width="0.6" />
<line x1="595.40" y1="617.40" x2="595.40" y2="868.30" stroke="#666" stroke-width="0.6" stroke-dasharray="1.6,1"/>
<line x1="595.40" y1="648.40" x2="577.00" y2="648.40" stroke="#e08a3a" stroke-width="0.9" />
<circle cx="577.00" cy="648.40" r="1.4" fill="#de7a1e"/>
<line x1="595.40" y1="679.80" x2="581.40" y2="679.80" stroke="#fbe6d4" stroke-width="0.9" />
<circle cx="581.40" cy="679.80" r="1.5" fill="#fbdcc0"/>
<line x1="595.40" y1="711.20" x2="594.00" y2="711.20" stroke="#fdf2e8" stroke-width="0.9" />
<circle cx="594.00" cy="711.20" r="1.2" fill="#fdeee0"/>
<line x1="595.40" y1="742.60" x2="597.00" y2="742.60" stroke="#fbe0c0" stroke-width="0.9" />
<circle cx="597.00" cy="742.60" r="1.6" fill="#f8cfa0"/>
<line x1="595.40" y1="774.00" x2="603.20" y2="774.00" stroke="#a0503a" stroke-width="0.9" />
<circle cx="603.20" cy="774.00" r="2.5" fill="#7a2510"/>
<line x1="595.40" y1="805.40" x2="611.40" y2="805.40" stroke="#f5c590" stroke-width="0.9" />
<circle cx="611.40" cy="805.40" r="2.1" fill="#f2b575"/>
<line x1="595.40" y1="836.80" x2="630.80" y2="836.80" stroke="#b87060" stroke-width="0.9" />
<circle cx="630.80" cy="836.80" r="1.5" fill="#7a2510"/>
<rect x="558.5" y="617.4" width="76.0" height="250.89999999999998" fill="none" stroke="#222" stroke-width="0.9"/>
<line x1="555.00" y1="617.40" x2="558.50" y2="617.40" stroke="#222" stroke-width="0.9" />
<line x1="555.00" y1="648.40" x2="558.50" y2="648.40" stroke="#222" stroke-width="0.7" />
<text x="545.50" y="648.60" font-size="6.0" text-anchor="end" font-weight="normal" fill="#222" font-family='"Liberation Sans", sans-serif' >CTCF_Hoffman</text>
<line x1="555.00" y1="679.80" x2="558.50" y2="679.80" stroke="#222" stroke-width="0.7" />
<text x="551.20" y="681.90" font-size="5.8" text-anchor="end" font-weight="normal" fill="#222" font-family='"Liberation Sans", sans-serif' >Enhancer_Hoffman.flanking.500</text>
<line x1="555.00" y1="711.20" x2="558.50" y2="711.20" stroke="#222" stroke-width="0.7" />
<text x="551.20" y="713.30" font-size="5.8" text-anchor="end" font-weight="normal" fill="#222" font-family='"Liberation Sans", sans-serif' >Transcr_Hoffman.flanking.500</text>
<line x1="555.00" y1="742.60" x2="558.50" y2="742.60" stroke="#222" stroke-width="0.7" />
<text x="551.20" y="744.70" font-size="6.0" text-anchor="end" font-weight="normal" fill="#222" font-family='"Liberation Sans", sans-serif' >CpG_Content_50kb</text>
<line x1="555.00" y1="774.00" x2="558.50" y2="774.00" stroke="#222" stroke-width="0.7" />
<text x="551.20" y="776.10" font-size="5.8" text-anchor="end" font-weight="normal" fill="#222" font-family='"Liberation Sans", sans-serif' >H3k4me3_Trynka.flanking.500</text>
<line x1="555.00" y1="805.40" x2="558.50" y2="805.40" stroke="#222" stroke-width="0.7" />
<text x="550.60" y="807.50" font-size="5.8" text-anchor="end" font-weight="normal" fill="#222" font-family='"Liberation Sans", sans-serif' >Enhancer_hoffman</text>
<line x1="555.00" y1="836.80" x2="558.50" y2="836.80" stroke="#222" stroke-width="0.7" />
<text x="549.20" y="838.90" font-size="5.8" text-anchor="end" font-weight="normal" fill="#222" font-family='"Liberation Sans", sans-serif' >UTR_5_UCSC</text>
<line x1="562.40" y1="868.30" x2="562.40" y2="870.30" stroke="#222" stroke-width="0.7" />
<text x="562.40" y="879.60" font-size="7.2" text-anchor="middle" font-weight="normal" fill="#222" font-family='"Liberation Serif", serif' >−30</text>
<line x1="573.40" y1="868.30" x2="573.40" y2="870.30" stroke="#222" stroke-width="0.7" />
<text x="573.40" y="879.60" font-size="7.2" text-anchor="middle" font-weight="normal" fill="#222" font-family='"Liberation Serif", serif' >−20</text>
<line x1="584.40" y1="868.30" x2="584.40" y2="870.30" stroke="#222" stroke-width="0.7" />
<text x="584.40" y="879.60" font-size="7.2" text-anchor="middle" font-weight="normal" fill="#222" font-family='"Liberation Serif", serif' >−10</text>
<line x1="595.40" y1="868.30" x2="595.40" y2="870.30" stroke="#222" stroke-width="0.7" />
<text x="595.40" y="879.60" font-size="7.2" text-anchor="middle" font-weight="normal" fill="#222" font-family='"Liberation Serif", serif' >0</text>
<line x1="606.40" y1="868.30" x2="606.40" y2="870.30" stroke="#222" stroke-width="0.7" />
<text x="606.40" y="879.60" font-size="7.2" text-anchor="middle" font-weight="normal" fill="#222" font-family='"Liberation Serif", serif' >10</text>
<line x1="617.40" y1="868.30" x2="617.40" y2="870.30" stroke="#222" stroke-width="0.7" />
<text x="617.40" y="879.60" font-size="7.2" text-anchor="middle" font-weight="normal" fill="#222" font-family='"Liberation Serif", serif' >20</text>
<line x1="628.40" y1="868.30" x2="628.40" y2="870.30" stroke="#222" stroke-width="0.7" />
<text x="628.40" y="879.60" font-size="7.2" text-anchor="middle" font-weight="normal" fill="#222" font-family='"Liberation Serif", serif' >30</text>
<text x="597.90" y="888.40" font-size="7.3" text-anchor="middle" font-weight="normal" fill="#222" font-family='"Liberation Sans", sans-serif' >Enrichment</text>
<rect x="499.7" y="640.8" width="57.5" height="13.3" fill="none" stroke="#d8232a" stroke-width="1.1"/>
<rect x="491.1" y="736.7" width="62.3" height="12" fill="none" stroke="#d8232a" stroke-width="1.1"/>
<text x="640.70" y="623.50" font-size="7" text-anchor="start" font-weight="normal" fill="#111" font-family='"Liberation Sans", sans-serif' >prop.h2</text>
<circle cx="644.1" cy="629.6" r="1.5" fill="#000"/>
<line x1="655.50" y1="629.60" x2="658.90" y2="629.60" stroke="#222" stroke-width="0.7" />
<text x="660.20" y="632.20" font-size="7.8" text-anchor="start" font-weight="normal" fill="#222" font-family='"Liberation Serif", serif' >0</text>
<circle cx="644.1" cy="644.9" r="2.45" fill="#000"/>
<line x1="655.50" y1="644.90" x2="658.90" y2="644.90" stroke="#222" stroke-width="0.7" />
<text x="660.20" y="647.50" font-size="7.8" text-anchor="start" font-weight="normal" fill="#222" font-family='"Liberation Serif", serif' >1</text>
<circle cx="644.1" cy="659.8" r="3.4" fill="#000"/>
<line x1="655.50" y1="659.80" x2="658.90" y2="659.80" stroke="#222" stroke-width="0.7" />
<text x="660.20" y="662.40" font-size="7.8" text-anchor="start" font-weight="normal" fill="#222" font-family='"Liberation Serif", serif' >2</text>
<circle cx="644.1" cy="674.8" r="4.3" fill="#000"/>
<line x1="655.50" y1="674.80" x2="658.90" y2="674.80" stroke="#222" stroke-width="0.7" />
<text x="660.20" y="677.40" font-size="7.8" text-anchor="start" font-weight="normal" fill="#222" font-family='"Liberation Serif", serif' >3</text>
<circle cx="644.1" cy="689.9" r="5.15" fill="#000"/>
<line x1="655.50" y1="689.90" x2="658.90" y2="689.90" stroke="#222" stroke-width="0.7" />
<text x="660.20" y="692.50" font-size="7.8" text-anchor="start" font-weight="normal" fill="#222" font-family='"Liberation Serif", serif' >4</text>
<circle cx="644.1" cy="705.0" r="6.0" fill="#000"/>
<line x1="655.50" y1="705.00" x2="658.90" y2="705.00" stroke="#222" stroke-width="0.7" />
<text x="660.20" y="707.60" font-size="7.8" text-anchor="start" font-weight="normal" fill="#222" font-family='"Liberation Serif", serif' >5</text>
<line x1="655.50" y1="629.30" x2="655.50" y2="705.20" stroke="#222" stroke-width="0.8" />
<text x="640.80" y="729.30" font-size="7.2" text-anchor="start" font-weight="normal" fill="#111" font-family='"Liberation Sans", sans-serif' >Enrichment_p</text>
<defs><linearGradient id="ora" x1="0" x2="0" y1="0" y2="1"><stop offset="0" stop-color="#fef3e6"/><stop offset="0.25" stop-color="#f6d3a8"/><stop offset="0.5" stop-color="#eb9a52"/><stop offset="0.62" stop-color="#dd6e1a"/><stop offset="0.8" stop-color="#a8400f"/><stop offset="1" stop-color="#6a2210"/></linearGradient></defs>
<rect x="640.90" y="735.50" width="11.20" height="75.30" fill="url(#ora)" />
<line x1="652.70" y1="735.50" x2="652.70" y2="810.80" stroke="#222" stroke-width="0.8" />
<line x1="652.70" y1="735.50" x2="655.00" y2="735.50" stroke="#222" stroke-width="0.8" />
<line x1="652.70" y1="810.80" x2="655.00" y2="810.80" stroke="#222" stroke-width="0.8" />
<line x1="652.70" y1="755.60" x2="655.00" y2="755.60" stroke="#222" stroke-width="0.8" />
<text x="657.60" y="758.10" font-size="7.2" text-anchor="start" font-weight="normal" fill="#222" font-family='"Liberation Serif", serif' >0.02</text>
<line x1="652.70" y1="776.00" x2="655.00" y2="776.00" stroke="#222" stroke-width="0.8" />
<text x="657.60" y="778.50" font-size="7.2" text-anchor="start" font-weight="normal" fill="#222" font-family='"Liberation Serif", serif' >0.03</text>
<line x1="652.70" y1="796.90" x2="655.00" y2="796.90" stroke="#222" stroke-width="0.8" />
<text x="657.60" y="799.40" font-size="7.2" text-anchor="start" font-weight="normal" fill="#222" font-family='"Liberation Serif", serif' >0.04</text>
</svg>
</body></html>
